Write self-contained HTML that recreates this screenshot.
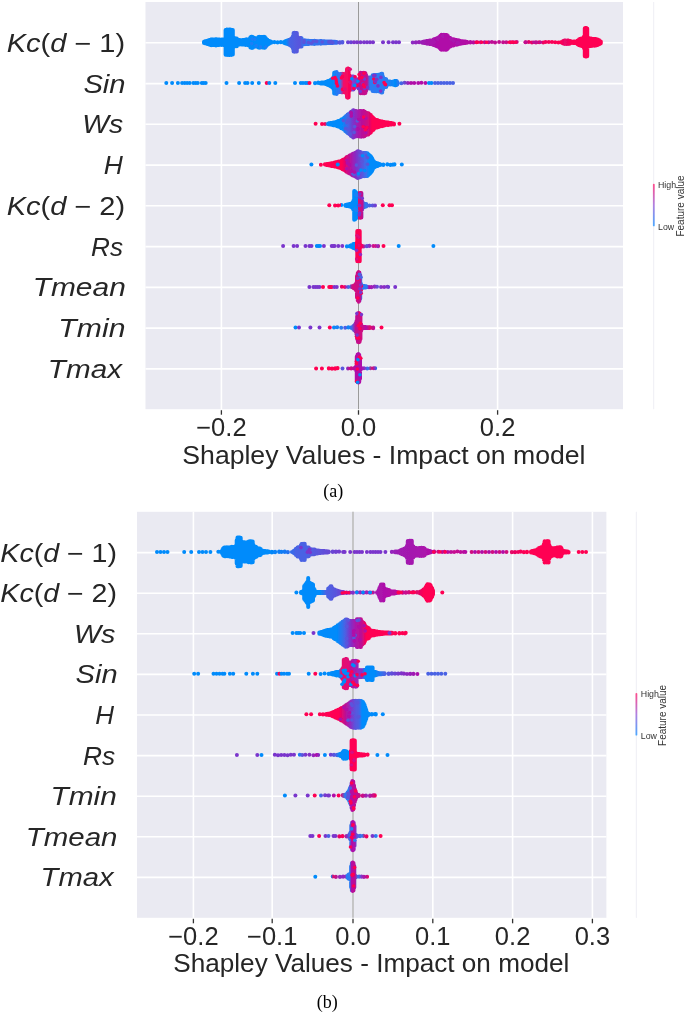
<!DOCTYPE html>
<html><head><meta charset="utf-8"><style>
html,body{margin:0;padding:0;background:#fff;width:685px;height:1013px;overflow:hidden}
svg{display:block;will-change:transform}
text{font-family:"Liberation Sans",sans-serif;fill:#262626}
.yl{font-size:25px;font-style:italic}
.up{font-style:normal}
.tk{font-size:25.5px}
.xl{font-size:25.5px}
.cap{font-family:"Liberation Serif",serif;font-size:18px;fill:#000}
.cb{fill:#333}
</style></head><body>
<svg width="685" height="1013" viewBox="0 0 685 1013"><defs><linearGradient id="g1" gradientUnits="userSpaceOnUse" x1="202.0" y1="0" x2="345.0" y2="0"><stop offset="0.0000" stop-color="#008BFB"/><stop offset="0.5874" stop-color="#008BFB"/><stop offset="0.6154" stop-color="#4A62E4"/><stop offset="0.6853" stop-color="#5A55DC"/><stop offset="0.7133" stop-color="#2F78F2"/><stop offset="0.8601" stop-color="#3570EE"/><stop offset="0.9371" stop-color="#3A6AEE"/><stop offset="1.0000" stop-color="#5A55DC"/></linearGradient><linearGradient id="g2" gradientUnits="userSpaceOnUse" x1="410.7" y1="0" x2="519.0" y2="0"><stop offset="0.0000" stop-color="#8A2EC4"/><stop offset="0.1320" stop-color="#A01AB0"/><stop offset="0.2705" stop-color="#B00CA8"/><stop offset="0.4552" stop-color="#B00CA8"/><stop offset="0.6399" stop-color="#B8109C"/><stop offset="0.8246" stop-color="#C00C90"/><stop offset="1.0000" stop-color="#D0087F"/></linearGradient><linearGradient id="g3" gradientUnits="userSpaceOnUse" x1="523.6" y1="0" x2="603.4" y2="0"><stop offset="0.0000" stop-color="#E0086A"/><stop offset="0.2055" stop-color="#F00060"/><stop offset="0.4561" stop-color="#FF0052"/><stop offset="0.5188" stop-color="#E8086A"/><stop offset="0.6065" stop-color="#FF0052"/><stop offset="1.0000" stop-color="#FF0052"/></linearGradient><linearGradient id="g4" gradientUnits="userSpaceOnUse" x1="313.0" y1="0" x2="428.0" y2="0"><stop offset="0.0000" stop-color="#008BFB"/><stop offset="0.1652" stop-color="#008BFB"/><stop offset="0.2348" stop-color="#3A6FF0"/><stop offset="0.2652" stop-color="#F0106A"/><stop offset="0.3304" stop-color="#FF0052"/><stop offset="0.3391" stop-color="#7A45D8"/><stop offset="0.3826" stop-color="#8A30C8"/><stop offset="0.3957" stop-color="#C00C90"/><stop offset="0.4696" stop-color="#C80C8C"/><stop offset="0.4957" stop-color="#2A7BF4"/><stop offset="0.6348" stop-color="#2C7CF2"/><stop offset="0.7130" stop-color="#008BFB"/><stop offset="0.7739" stop-color="#4A62E4"/><stop offset="0.8435" stop-color="#B00CA8"/><stop offset="1.0000" stop-color="#B00CA8"/></linearGradient><linearGradient id="g5" gradientUnits="userSpaceOnUse" x1="320.0" y1="0" x2="396.4" y2="0"><stop offset="0.0000" stop-color="#FF0052"/><stop offset="0.0654" stop-color="#FF0052"/><stop offset="0.0916" stop-color="#008BFB"/><stop offset="0.2880" stop-color="#008BFB"/><stop offset="0.3665" stop-color="#4A62E4"/><stop offset="0.4319" stop-color="#7A35CC"/><stop offset="0.4974" stop-color="#A818AE"/><stop offset="0.5759" stop-color="#C00C90"/><stop offset="0.6283" stop-color="#D0087F"/><stop offset="0.6806" stop-color="#FF0052"/><stop offset="1.0000" stop-color="#FF0052"/></linearGradient><linearGradient id="g6" gradientUnits="userSpaceOnUse" x1="318.9" y1="0" x2="397.0" y2="0"><stop offset="0.0000" stop-color="#FF0052"/><stop offset="0.2958" stop-color="#FF0052"/><stop offset="0.3598" stop-color="#D0087F"/><stop offset="0.4238" stop-color="#A818AE"/><stop offset="0.4878" stop-color="#7A35CC"/><stop offset="0.5519" stop-color="#5A55DC"/><stop offset="0.6031" stop-color="#3A70EE"/><stop offset="0.6415" stop-color="#008BFB"/><stop offset="1.0000" stop-color="#008BFB"/></linearGradient><linearGradient id="g7" gradientUnits="userSpaceOnUse" x1="333.0" y1="0" x2="377.3" y2="0"><stop offset="0.0000" stop-color="#FF0052"/><stop offset="0.1761" stop-color="#FF0052"/><stop offset="0.1919" stop-color="#008BFB"/><stop offset="0.5530" stop-color="#008BFB"/><stop offset="0.5711" stop-color="#E0086A"/><stop offset="0.6659" stop-color="#C00C90"/><stop offset="0.7223" stop-color="#2C7CF2"/><stop offset="0.8804" stop-color="#5A55DC"/><stop offset="0.9932" stop-color="#7A35CC"/></linearGradient><linearGradient id="g8" gradientUnits="userSpaceOnUse" x1="344.9" y1="0" x2="380.4" y2="0"><stop offset="0.0028" stop-color="#008BFB"/><stop offset="0.2845" stop-color="#008BFB"/><stop offset="0.2986" stop-color="#FF0052"/><stop offset="0.4676" stop-color="#FF0052"/><stop offset="0.5099" stop-color="#E0087A"/><stop offset="0.5944" stop-color="#5A55DC"/><stop offset="0.7070" stop-color="#9428C0"/><stop offset="0.8197" stop-color="#E0087A"/><stop offset="0.9324" stop-color="#9428C0"/><stop offset="0.9887" stop-color="#D0087F"/></linearGradient><linearGradient id="g9" gradientUnits="userSpaceOnUse" x1="339.8" y1="0" x2="390.2" y2="0"><stop offset="0.0040" stop-color="#E0086A"/><stop offset="0.0833" stop-color="#FF0052"/><stop offset="0.1230" stop-color="#9428C0"/><stop offset="0.1825" stop-color="#2C7CF2"/><stop offset="0.2421" stop-color="#D0087F"/><stop offset="0.3016" stop-color="#D0087F"/><stop offset="0.4206" stop-color="#C00C90"/><stop offset="0.4405" stop-color="#2C7CF2"/><stop offset="0.5397" stop-color="#2C7CF2"/><stop offset="0.5794" stop-color="#B00CA8"/><stop offset="0.6786" stop-color="#9428C0"/><stop offset="0.7579" stop-color="#5A55DC"/><stop offset="0.8373" stop-color="#9428C0"/><stop offset="0.9960" stop-color="#6A3FD4"/></linearGradient><linearGradient id="g10" gradientUnits="userSpaceOnUse" x1="332.0" y1="0" x2="375.8" y2="0"><stop offset="0.0000" stop-color="#008BFB"/><stop offset="0.2283" stop-color="#2C7CF2"/><stop offset="0.2968" stop-color="#5A55DC"/><stop offset="0.3653" stop-color="#008BFB"/><stop offset="0.4566" stop-color="#4A62E4"/><stop offset="0.5365" stop-color="#C00C90"/><stop offset="0.6849" stop-color="#D0087F"/><stop offset="0.7763" stop-color="#B00CA8"/><stop offset="0.8676" stop-color="#E0086A"/><stop offset="1.0000" stop-color="#B00CA8"/></linearGradient><linearGradient id="g11" gradientUnits="userSpaceOnUse" x1="326.8" y1="0" x2="340.3" y2="0"><stop offset="0.0000" stop-color="#FF0052"/><stop offset="0.9778" stop-color="#FF0052"/></linearGradient><linearGradient id="g12" gradientUnits="userSpaceOnUse" x1="346.0" y1="0" x2="377.6" y2="0"><stop offset="0.0000" stop-color="#7A35CC"/><stop offset="0.1266" stop-color="#D0087F"/><stop offset="0.3006" stop-color="#B00CA8"/><stop offset="0.4747" stop-color="#B00CA8"/><stop offset="0.5696" stop-color="#9428C0"/><stop offset="0.6962" stop-color="#2C7CF2"/><stop offset="0.8228" stop-color="#E0086A"/><stop offset="0.9177" stop-color="#7A35CC"/><stop offset="1.0000" stop-color="#008BFB"/></linearGradient><linearGradient id="g13" gradientUnits="userSpaceOnUse" x1="216.3" y1="0" x2="346.7" y2="0"><stop offset="0.0000" stop-color="#008BFB"/><stop offset="0.3965" stop-color="#008BFB"/><stop offset="0.5268" stop-color="#1478F4"/><stop offset="0.6112" stop-color="#4A62E4"/><stop offset="0.6879" stop-color="#4A62E4"/><stop offset="0.7799" stop-color="#5A55DC"/><stop offset="0.9946" stop-color="#7A35CC"/></linearGradient><linearGradient id="g14" gradientUnits="userSpaceOnUse" x1="389.8" y1="0" x2="468.1" y2="0"><stop offset="0.0026" stop-color="#9428C0"/><stop offset="0.1303" stop-color="#A01AB0"/><stop offset="0.3857" stop-color="#A818AE"/><stop offset="0.5390" stop-color="#B00CA8"/><stop offset="0.6028" stop-color="#D0087F"/><stop offset="0.7050" stop-color="#B00CA8"/><stop offset="0.8327" stop-color="#C8088F"/><stop offset="0.9987" stop-color="#B00CA8"/></linearGradient><linearGradient id="g15" gradientUnits="userSpaceOnUse" x1="509.8" y1="0" x2="570.8" y2="0"><stop offset="0.0000" stop-color="#E0086A"/><stop offset="0.2492" stop-color="#FF0052"/><stop offset="1.0000" stop-color="#FF0052"/></linearGradient><linearGradient id="g16" gradientUnits="userSpaceOnUse" x1="299.0" y1="0" x2="435.3" y2="0"><stop offset="0.0000" stop-color="#008BFB"/><stop offset="0.1541" stop-color="#008BFB"/><stop offset="0.1981" stop-color="#4A62E4"/><stop offset="0.2715" stop-color="#5A55DC"/><stop offset="0.3375" stop-color="#7A35CC"/><stop offset="0.4475" stop-color="#9428C0"/><stop offset="0.5649" stop-color="#A818AE"/><stop offset="0.6530" stop-color="#B00CA8"/><stop offset="0.7777" stop-color="#C8088F"/><stop offset="0.8731" stop-color="#E0086A"/><stop offset="0.9171" stop-color="#FF0052"/><stop offset="1.0000" stop-color="#FF0052"/></linearGradient><linearGradient id="g17" gradientUnits="userSpaceOnUse" x1="317.3" y1="0" x2="408.4" y2="0"><stop offset="0.0000" stop-color="#008BFB"/><stop offset="0.2162" stop-color="#008BFB"/><stop offset="0.3041" stop-color="#4A62E4"/><stop offset="0.3589" stop-color="#7A35CC"/><stop offset="0.4138" stop-color="#A818AE"/><stop offset="0.4907" stop-color="#C00C90"/><stop offset="0.5346" stop-color="#FF0052"/><stop offset="1.0000" stop-color="#FF0052"/></linearGradient><linearGradient id="g18" gradientUnits="userSpaceOnUse" x1="318.6" y1="0" x2="419.6" y2="0"><stop offset="0.0000" stop-color="#008BFB"/><stop offset="0.2020" stop-color="#008BFB"/><stop offset="0.2218" stop-color="#E8106C"/><stop offset="0.3010" stop-color="#E0107A"/><stop offset="0.3208" stop-color="#B810A0"/><stop offset="0.3901" stop-color="#9A28BC"/><stop offset="0.4297" stop-color="#7A35CC"/><stop offset="0.4594" stop-color="#008BFB"/><stop offset="0.5584" stop-color="#008BFB"/><stop offset="0.6574" stop-color="#4A62E4"/><stop offset="0.8059" stop-color="#7A35CC"/><stop offset="1.0000" stop-color="#B00CA8"/></linearGradient><linearGradient id="g19" gradientUnits="userSpaceOnUse" x1="317.8" y1="0" x2="378.4" y2="0"><stop offset="0.0000" stop-color="#FF0052"/><stop offset="0.3498" stop-color="#FF0052"/><stop offset="0.4488" stop-color="#C00C90"/><stop offset="0.5314" stop-color="#9428C0"/><stop offset="0.6139" stop-color="#5A55DC"/><stop offset="0.6799" stop-color="#4A62E4"/><stop offset="0.7294" stop-color="#008BFB"/><stop offset="0.9934" stop-color="#008BFB"/></linearGradient><linearGradient id="g20" gradientUnits="userSpaceOnUse" x1="272.8" y1="0" x2="296.3" y2="0"><stop offset="0.0000" stop-color="#7A35CC"/><stop offset="0.9872" stop-color="#7A35CC"/></linearGradient><linearGradient id="g21" gradientUnits="userSpaceOnUse" x1="297.8" y1="0" x2="320.3" y2="0"><stop offset="0.0000" stop-color="#008BFB"/><stop offset="0.1422" stop-color="#4A62E4"/><stop offset="0.3200" stop-color="#7A35CC"/><stop offset="0.6756" stop-color="#9028C0"/><stop offset="0.8089" stop-color="#B00CA8"/><stop offset="0.9867" stop-color="#7A35CC"/></linearGradient><linearGradient id="g22" gradientUnits="userSpaceOnUse" x1="328.8" y1="0" x2="370.0" y2="0"><stop offset="0.0000" stop-color="#7A35CC"/><stop offset="0.1748" stop-color="#4A62E4"/><stop offset="0.2476" stop-color="#008BFB"/><stop offset="0.4903" stop-color="#008BFB"/><stop offset="0.4976" stop-color="#FF0052"/><stop offset="1.0000" stop-color="#FF0052"/></linearGradient><linearGradient id="g23" gradientUnits="userSpaceOnUse" x1="319.0" y1="0" x2="331.1" y2="0"><stop offset="0.0000" stop-color="#2C7CF2"/><stop offset="0.4959" stop-color="#7A35CC"/><stop offset="0.9917" stop-color="#7A35CC"/></linearGradient><linearGradient id="g24" gradientUnits="userSpaceOnUse" x1="340.8" y1="0" x2="377.5" y2="0"><stop offset="0.0000" stop-color="#E0086A"/><stop offset="0.1144" stop-color="#2C7CF2"/><stop offset="0.2234" stop-color="#2C7CF2"/><stop offset="0.2507" stop-color="#B00CA8"/><stop offset="0.4414" stop-color="#C00C90"/><stop offset="0.5777" stop-color="#D0087F"/><stop offset="0.7139" stop-color="#9428C0"/><stop offset="0.8501" stop-color="#C00C90"/><stop offset="0.9864" stop-color="#FF0052"/></linearGradient><linearGradient id="g25" gradientUnits="userSpaceOnUse" x1="337.3" y1="0" x2="368.8" y2="0"><stop offset="0.0000" stop-color="#E0086A"/><stop offset="0.1810" stop-color="#FF0052"/><stop offset="0.3079" stop-color="#7A35CC"/><stop offset="0.4032" stop-color="#2C7CF2"/><stop offset="0.4349" stop-color="#B00CA8"/><stop offset="0.5619" stop-color="#A818AE"/><stop offset="0.6254" stop-color="#5A55DC"/><stop offset="0.7841" stop-color="#2C7CF2"/><stop offset="0.8794" stop-color="#E0086A"/><stop offset="1.0000" stop-color="#FF0052"/></linearGradient><linearGradient id="g26" gradientUnits="userSpaceOnUse" x1="330.7" y1="0" x2="369.7" y2="0"><stop offset="0.0077" stop-color="#008BFB"/><stop offset="0.0590" stop-color="#E0086A"/><stop offset="0.2385" stop-color="#9428C0"/><stop offset="0.3667" stop-color="#9428C0"/><stop offset="0.4051" stop-color="#2C7CF2"/><stop offset="0.4949" stop-color="#2C7CF2"/><stop offset="0.5205" stop-color="#B00CA8"/><stop offset="0.6231" stop-color="#C00C90"/><stop offset="0.7000" stop-color="#2C7CF2"/><stop offset="0.8026" stop-color="#9428C0"/><stop offset="0.9051" stop-color="#C00C90"/><stop offset="1.0000" stop-color="#FF0052"/></linearGradient><linearGradient id="cb27" x1="0" y1="1" x2="0" y2="0"><stop offset="0" stop-color="#4AA8FF"/><stop offset="0.5" stop-color="#B080E0"/><stop offset="1" stop-color="#FF4A8A"/></linearGradient><linearGradient id="cb28" x1="0" y1="1" x2="0" y2="0"><stop offset="0" stop-color="#4AA8FF"/><stop offset="0.5" stop-color="#B080E0"/><stop offset="1" stop-color="#FF4A8A"/></linearGradient><filter id="soft" x="-5%" y="-5%" width="110%" height="110%"><feGaussianBlur stdDeviation="0.45"/></filter></defs><rect width="685" height="1013" fill="#fff"/><rect x="145.5" y="2.0" width="477.5" height="407.2" fill="#EAEAF2"/><line x1="221.4" y1="2.0" x2="221.4" y2="409.2" stroke="#fff" stroke-width="1.6"/><line x1="358.5" y1="2.0" x2="358.5" y2="409.2" stroke="#fff" stroke-width="1.6"/><line x1="497.6" y1="2.0" x2="497.6" y2="409.2" stroke="#fff" stroke-width="1.6"/><line x1="145.5" y1="42.8" x2="623.0" y2="42.8" stroke="#fff" stroke-width="1.6"/><line x1="145.5" y1="83.6" x2="623.0" y2="83.6" stroke="#fff" stroke-width="1.6"/><line x1="145.5" y1="124.3" x2="623.0" y2="124.3" stroke="#fff" stroke-width="1.6"/><line x1="145.5" y1="165.1" x2="623.0" y2="165.1" stroke="#fff" stroke-width="1.6"/><line x1="145.5" y1="205.8" x2="623.0" y2="205.8" stroke="#fff" stroke-width="1.6"/><line x1="145.5" y1="246.6" x2="623.0" y2="246.6" stroke="#fff" stroke-width="1.6"/><line x1="145.5" y1="287.4" x2="623.0" y2="287.4" stroke="#fff" stroke-width="1.6"/><line x1="145.5" y1="328.1" x2="623.0" y2="328.1" stroke="#fff" stroke-width="1.6"/><line x1="145.5" y1="368.9" x2="623.0" y2="368.9" stroke="#fff" stroke-width="1.6"/><line x1="358.5" y1="2.0" x2="358.5" y2="409.2" stroke="#9a9a9a" stroke-width="1.1"/><line x1="221.4" y1="410.2" x2="221.4" y2="414.7" stroke="#333" stroke-width="1.3"/><line x1="358.5" y1="410.2" x2="358.5" y2="414.7" stroke="#333" stroke-width="1.3"/><line x1="497.6" y1="410.2" x2="497.6" y2="414.7" stroke="#333" stroke-width="1.3"/><rect x="137.0" y="511.8" width="469.4" height="406.0" fill="#EAEAF2"/><line x1="193.4" y1="511.8" x2="193.4" y2="917.8" stroke="#fff" stroke-width="1.6"/><line x1="272.2" y1="511.8" x2="272.2" y2="917.8" stroke="#fff" stroke-width="1.6"/><line x1="353.0" y1="511.8" x2="353.0" y2="917.8" stroke="#fff" stroke-width="1.6"/><line x1="432.8" y1="511.8" x2="432.8" y2="917.8" stroke="#fff" stroke-width="1.6"/><line x1="512.6" y1="511.8" x2="512.6" y2="917.8" stroke="#fff" stroke-width="1.6"/><line x1="592.4" y1="511.8" x2="592.4" y2="917.8" stroke="#fff" stroke-width="1.6"/><line x1="137.0" y1="552.6" x2="606.4" y2="552.6" stroke="#fff" stroke-width="1.6"/><line x1="137.0" y1="593.2" x2="606.4" y2="593.2" stroke="#fff" stroke-width="1.6"/><line x1="137.0" y1="633.8" x2="606.4" y2="633.8" stroke="#fff" stroke-width="1.6"/><line x1="137.0" y1="674.4" x2="606.4" y2="674.4" stroke="#fff" stroke-width="1.6"/><line x1="137.0" y1="715.0" x2="606.4" y2="715.0" stroke="#fff" stroke-width="1.6"/><line x1="137.0" y1="755.6" x2="606.4" y2="755.6" stroke="#fff" stroke-width="1.6"/><line x1="137.0" y1="796.2" x2="606.4" y2="796.2" stroke="#fff" stroke-width="1.6"/><line x1="137.0" y1="836.8" x2="606.4" y2="836.8" stroke="#fff" stroke-width="1.6"/><line x1="137.0" y1="877.4" x2="606.4" y2="877.4" stroke="#fff" stroke-width="1.6"/><line x1="353.0" y1="511.8" x2="353.0" y2="917.8" stroke="#9a9a9a" stroke-width="1.1"/><line x1="193.4" y1="918.8" x2="193.4" y2="923.3" stroke="#333" stroke-width="1.3"/><line x1="272.2" y1="918.8" x2="272.2" y2="923.3" stroke="#333" stroke-width="1.3"/><line x1="353.0" y1="918.8" x2="353.0" y2="923.3" stroke="#333" stroke-width="1.3"/><line x1="432.8" y1="918.8" x2="432.8" y2="923.3" stroke="#333" stroke-width="1.3"/><line x1="512.6" y1="918.8" x2="512.6" y2="923.3" stroke="#333" stroke-width="1.3"/><line x1="592.4" y1="918.8" x2="592.4" y2="923.3" stroke="#333" stroke-width="1.3"/><g filter="url(#soft)"><path d="M204.0 41.7V42.9M204.8 41.4V43.2M205.6 41.3V43.3M206.4 41.2V43.4M207.2 40.7V43.9M208.0 40.8V43.8M208.8 40.3V44.3M209.6 39.9V44.7M210.4 39.7V44.9M211.2 39.4V45.2M212.0 39.7V44.9M212.8 39.5V45.1M213.6 39.7V44.9M214.4 39.7V44.9M215.2 39.5V45.1M216.0 39.2V45.4M216.8 39.6V45.0M217.6 39.6V45.0M218.4 39.5V45.1M219.2 39.6V45.0M220.0 39.8V44.8M220.8 39.9V44.7M221.6 39.6V45.0M222.4 40.1V44.5M223.2 39.6V45.0M224.0 39.8V44.8M224.8 39.4V45.2M225.6 29.9V54.7M226.4 29.8V54.8M227.2 29.5V55.1M228.0 29.9V54.7M228.8 29.7V54.9M229.6 29.6V55.0M230.4 29.8V54.8M231.2 29.7V54.9M232.0 30.0V54.6M232.8 30.0V54.6M233.6 37.6V47.0M234.4 38.1V46.5M235.2 38.5V46.1M236.0 38.6V46.0M236.8 38.4V46.2M237.6 39.6V45.0M238.4 40.3V44.3M239.2 40.0V44.6M240.0 40.1V44.5M240.8 40.4V44.2M241.6 40.2V44.4M242.4 40.2V44.4M243.2 40.0V44.6M244.0 40.1V44.5M244.8 40.3V44.3M245.6 39.6V45.0M246.4 39.8V44.8M247.2 39.6V45.0M248.0 39.4V45.2M248.8 39.6V45.0M249.6 38.9V45.7M250.4 37.2V47.4M251.2 36.8V47.8M252.0 36.7V47.9M252.8 36.9V47.7M253.6 37.6V47.0M254.4 38.3V46.3M255.2 38.2V46.4M256.0 38.2V46.4M256.8 38.3V46.3M257.6 38.2V46.4M258.4 37.1V47.5M259.2 36.8V47.8M260.0 37.1V47.5M260.8 37.0V47.6M261.6 37.4V47.2M262.4 37.0V47.6M263.2 37.0V47.6M264.0 36.8V47.8M264.8 36.9V47.7M265.6 38.0V46.6M266.4 39.1V45.5M267.2 39.6V45.0M268.0 40.5V44.1M268.8 40.7V43.9M269.6 41.4V43.2M270.4 41.5V43.1M271.2 41.8V42.8M274.4 42.0V42.2M277.6 42.2V42.4M280.8 42.1V42.3M284.0 41.9V42.7M284.8 41.4V43.2M285.6 41.2V43.4M286.4 40.9V43.7M287.2 40.6V44.0M288.0 40.4V44.2M288.8 40.0V44.6M289.6 39.7V44.9M290.4 39.4V45.2M291.2 38.6V46.0M292.0 38.1V46.5M292.8 36.4V48.2M293.6 33.1V51.5M294.4 32.8V51.8M295.2 33.0V51.6M296.0 33.1V51.5M296.8 33.0V51.6M297.6 37.1V47.5M298.4 38.2V46.4M299.2 37.9V46.7M300.0 38.0V46.6M300.8 38.0V46.6M301.6 38.2V46.4M302.4 40.2V44.4M303.2 40.5V44.1M304.0 40.7V43.9M304.8 40.3V44.3M305.6 40.7V43.9M306.4 40.7V43.9M307.2 40.7V43.9M308.0 40.7V43.9M308.8 40.7V43.9M309.6 40.9V43.7M310.4 41.0V43.6M311.2 40.9V43.7M312.0 41.0V43.6M312.8 40.9V43.7M313.6 41.1V43.5M314.4 40.7V43.9M315.2 40.9V43.7M316.0 41.2V43.4M316.8 41.2V43.4M317.6 41.2V43.4M318.4 41.2V43.4M319.2 41.4V43.2M320.0 41.0V43.6M320.8 40.9V43.7M321.6 41.3V43.3M322.4 41.3V43.3M323.2 41.3V43.3M324.0 41.3V43.3M324.8 41.4V43.2M325.6 41.4V43.2M326.4 41.4V43.2M327.2 41.5V43.1M328.0 41.5V43.1M328.8 41.5V43.1M329.6 41.5V43.1M330.4 41.6V43.0M331.2 41.6V43.0M332.0 41.7V42.9M332.8 41.7V42.9M333.6 41.8V42.8M334.4 41.8V42.8M335.2 41.8V42.8M336.0 41.9V42.7M336.8 41.9V42.7M340.0 42.3V42.7M342.4 42.1V42.5" stroke="url(#g1)" stroke-width="4.0" stroke-linecap="round" fill="none"/><circle cx="308.4" cy="42.5" r="1.8" fill="#5A55DC"/><circle cx="304.0" cy="42.4" r="1.8" fill="#5A55DC"/><circle cx="339.2" cy="42.5" r="1.8" fill="#5A55DC"/><circle cx="328.8" cy="41.9" r="1.8" fill="#5A55DC"/><circle cx="316.6" cy="41.4" r="1.8" fill="#5A55DC"/><circle cx="331.6" cy="42.3" r="1.8" fill="#5A55DC"/><circle cx="331.8" cy="42.1" r="1.8" fill="#5A55DC"/><circle cx="311.3" cy="43.3" r="1.8" fill="#5A55DC"/><circle cx="339.4" cy="42.5" r="1.8" fill="#5A55DC"/><circle cx="332.8" cy="42.7" r="1.8" fill="#5A55DC"/><circle cx="330.4" cy="41.9" r="1.8" fill="#5A55DC"/><circle cx="322.2" cy="42.0" r="1.8" fill="#5A55DC"/><circle cx="304.1" cy="40.5" r="1.8" fill="#5A55DC"/><circle cx="313.3" cy="41.6" r="1.8" fill="#5A55DC"/><circle cx="260.5" cy="47.0" r="1.8" fill="#1E7FF6"/><circle cx="256.1" cy="45.8" r="1.8" fill="#1E7FF6"/><circle cx="265.8" cy="47.0" r="1.8" fill="#1E7FF6"/><circle cx="254.6" cy="39.3" r="1.8" fill="#1E7FF6"/><circle cx="252.1" cy="39.0" r="1.8" fill="#1E7FF6"/><circle cx="251.7" cy="43.6" r="1.8" fill="#1E7FF6"/><circle cx="348.0" cy="42.3" r="2.0" fill="#6A40D4"/><circle cx="351.0" cy="42.3" r="2.0" fill="#6A40D4"/><circle cx="354.0" cy="42.3" r="2.0" fill="#7A35CC"/><circle cx="357.0" cy="42.3" r="2.0" fill="#7A35CC"/><circle cx="360.5" cy="42.3" r="2.0" fill="#7A35CC"/><circle cx="364.0" cy="42.3" r="2.0" fill="#7A35CC"/><circle cx="367.0" cy="42.3" r="2.0" fill="#7A35CC"/><circle cx="370.0" cy="42.3" r="2.0" fill="#7A35CC"/><circle cx="373.0" cy="42.3" r="2.0" fill="#7A35CC"/><circle cx="383.0" cy="42.3" r="2.0" fill="#7A35CC"/><circle cx="388.6" cy="42.3" r="2.0" fill="#7A35CC"/><circle cx="393.0" cy="42.3" r="2.0" fill="#7A35CC"/><circle cx="396.0" cy="42.3" r="2.0" fill="#7A35CC"/><circle cx="399.0" cy="42.3" r="2.0" fill="#7A35CC"/><path d="M412.7 42.5V42.5M415.9 42.3V42.5M419.1 42.0V42.2M422.3 41.9V42.7M423.1 41.8V42.8M423.9 41.7V42.9M424.7 41.6V43.0M425.5 41.5V43.1M426.3 41.3V43.3M427.1 40.9V43.7M427.9 41.1V43.5M428.7 41.0V43.6M429.5 40.5V44.1M430.3 40.5V44.1M431.1 40.6V44.0M431.9 40.4V44.2M432.7 40.2V44.4M433.5 39.5V45.1M434.3 39.3V45.3M435.1 39.5V45.1M435.9 38.8V45.8M436.7 38.4V46.2M437.5 38.3V46.3M438.3 38.1V46.5M439.1 37.1V47.5M439.9 36.3V48.3M440.7 35.4V49.2M441.5 34.8V49.8M442.3 35.0V49.6M443.1 35.1V49.5M443.9 34.8V49.8M444.7 35.1V49.5M445.5 34.9V49.7M446.3 34.9V49.7M447.1 35.3V49.3M447.9 36.0V48.6M448.7 37.4V47.2M449.5 37.9V46.7M450.3 38.1V46.5M451.1 38.7V45.9M451.9 39.0V45.6M452.7 39.5V45.1M453.5 39.2V45.4M454.3 39.7V44.9M455.1 39.8V44.8M455.9 40.0V44.6M456.7 39.9V44.7M457.5 40.4V44.2M458.3 40.3V44.3M459.1 40.7V43.9M459.9 40.8V43.8M460.7 40.9V43.7M461.5 41.4V43.2M462.3 41.3V43.3M463.1 41.4V43.2M463.9 41.5V43.1M464.7 41.6V43.0M465.5 41.7V42.9M466.3 41.8V42.8M467.1 41.9V42.7M470.3 42.1V42.5M473.5 42.3V42.4M476.7 42.2V42.2M480.7 42.3V42.3M484.7 42.3V42.3M488.7 42.2V42.2M491.9 42.1V42.1M495.1 42.4V42.4M499.1 42.1V42.1M503.1 42.3V42.3M506.3 42.3V42.3M510.3 42.3V42.3M513.5 42.3V42.3M516.7 42.1V42.1" stroke="url(#g2)" stroke-width="4.0" stroke-linecap="round" fill="none"/><circle cx="438.0" cy="37.7" r="1.8" fill="#A818AE"/><circle cx="453.4" cy="41.0" r="1.8" fill="#A818AE"/><circle cx="433.9" cy="41.9" r="1.8" fill="#A818AE"/><circle cx="457.3" cy="43.6" r="1.8" fill="#A818AE"/><circle cx="437.8" cy="39.0" r="1.8" fill="#A818AE"/><circle cx="457.6" cy="42.6" r="1.8" fill="#A818AE"/><circle cx="451.0" cy="39.0" r="1.8" fill="#A818AE"/><circle cx="431.7" cy="43.1" r="1.8" fill="#A818AE"/><circle cx="442.8" cy="36.1" r="1.8" fill="#A818AE"/><circle cx="458.2" cy="42.8" r="1.8" fill="#A818AE"/><circle cx="509.3" cy="42.3" r="1.8" fill="#FF0052"/><circle cx="512.0" cy="42.3" r="1.8" fill="#FF0052"/><circle cx="512.3" cy="42.3" r="1.8" fill="#FF0052"/><circle cx="486.6" cy="42.3" r="1.8" fill="#FF0052"/><circle cx="515.4" cy="42.3" r="1.8" fill="#FF0052"/><circle cx="476.3" cy="42.3" r="1.8" fill="#FF0052"/><circle cx="481.7" cy="42.3" r="1.8" fill="#FF0052"/><circle cx="477.9" cy="42.3" r="1.8" fill="#FF0052"/><path d="M525.6 42.2V42.2M528.8 42.1V42.1M532.0 42.4V42.4M536.0 42.5V42.5M539.2 42.3V42.3M543.2 42.4V42.4M545.6 42.1V42.1M548.8 42.1V42.1M552.0 42.1V42.1M555.2 42.2V42.2M558.4 42.6V42.6M560.8 42.2V42.2M562.4 41.7V42.9M563.2 41.0V43.6M564.0 40.8V43.8M564.8 40.5V44.1M565.6 40.8V43.8M566.4 40.7V43.9M567.2 40.8V43.8M568.0 40.6V44.0M568.8 40.8V43.8M569.6 40.9V43.7M570.4 41.3V43.3M571.2 41.6V43.0M572.0 41.8V42.8M572.8 41.7V42.9M573.6 41.7V42.9M574.4 41.6V43.0M575.2 41.6V43.0M576.0 41.4V43.2M576.8 41.2V43.4M577.6 40.4V44.2M578.4 39.9V44.7M579.2 39.3V45.3M580.0 39.0V45.6M580.8 38.8V45.8M581.6 38.6V46.0M582.4 38.7V45.9M583.2 38.4V46.2M584.0 36.4V48.2M584.8 28.3V56.3M585.6 28.0V56.6M586.4 28.0V56.6M587.2 28.4V56.2M588.0 37.8V46.8M588.8 38.3V46.3M589.6 38.6V46.0M590.4 38.6V46.0M591.2 38.6V46.0M592.0 39.1V45.5M592.8 38.9V45.7M593.6 39.0V45.6M594.4 38.9V45.7M595.2 39.0V45.6M596.0 39.2V45.4M596.8 39.6V45.0M597.6 39.6V45.0M598.4 40.0V44.6M599.2 40.3V44.3M600.0 40.9V43.7M600.8 41.4V43.2" stroke="url(#g3)" stroke-width="4.0" stroke-linecap="round" fill="none"/><circle cx="525.9" cy="42.3" r="1.8" fill="#C00C90"/><circle cx="525.3" cy="42.3" r="1.8" fill="#C00C90"/><circle cx="535.3" cy="42.3" r="1.8" fill="#C00C90"/><circle cx="536.8" cy="42.3" r="1.8" fill="#C00C90"/><circle cx="533.8" cy="42.3" r="1.8" fill="#C00C90"/><circle cx="540.5" cy="42.3" r="1.8" fill="#C00C90"/><circle cx="166.3" cy="83.1" r="2.0" fill="#008BFB"/><circle cx="172.1" cy="83.1" r="2.0" fill="#008BFB"/><circle cx="177.9" cy="83.1" r="2.0" fill="#008BFB"/><circle cx="182.1" cy="83.1" r="2.0" fill="#008BFB"/><circle cx="184.7" cy="83.1" r="2.0" fill="#008BFB"/><circle cx="187.1" cy="83.1" r="2.0" fill="#008BFB"/><circle cx="189.7" cy="83.1" r="2.0" fill="#008BFB"/><circle cx="193.4" cy="83.1" r="2.0" fill="#008BFB"/><circle cx="195.7" cy="83.1" r="2.0" fill="#008BFB"/><circle cx="197.8" cy="83.1" r="2.0" fill="#008BFB"/><circle cx="201.8" cy="83.1" r="2.0" fill="#008BFB"/><circle cx="203.6" cy="83.1" r="2.0" fill="#008BFB"/><circle cx="205.7" cy="83.1" r="2.0" fill="#008BFB"/><circle cx="226.5" cy="83.1" r="2.0" fill="#008BFB"/><circle cx="239.1" cy="83.1" r="2.0" fill="#008BFB"/><circle cx="245.1" cy="83.1" r="2.0" fill="#008BFB"/><circle cx="247.5" cy="83.1" r="2.0" fill="#008BFB"/><circle cx="252.2" cy="83.1" r="2.0" fill="#008BFB"/><circle cx="258.8" cy="83.1" r="2.0" fill="#008BFB"/><circle cx="266.7" cy="83.1" r="2.0" fill="#FF0052"/><circle cx="269.3" cy="83.1" r="2.0" fill="#008BFB"/><circle cx="275.3" cy="83.1" r="2.0" fill="#008BFB"/><circle cx="295.0" cy="83.1" r="2.0" fill="#008BFB"/><circle cx="300.8" cy="83.1" r="2.0" fill="#008BFB"/><circle cx="303.0" cy="83.1" r="2.0" fill="#008BFB"/><circle cx="305.5" cy="83.1" r="2.0" fill="#008BFB"/><circle cx="307.4" cy="83.1" r="2.0" fill="#008BFB"/><circle cx="309.5" cy="83.1" r="2.0" fill="#FF0052"/><path d="M315.0 83.0V83.2M318.2 82.6V83.1M320.6 82.7V83.4M321.4 82.7V83.5M322.2 82.6V83.5M323.0 82.6V83.5M323.8 82.5V83.6M324.6 82.5V83.6M325.4 82.2V83.9M326.2 82.1V84.0M327.0 81.5V84.6M327.8 81.1V85.0M328.6 81.1V85.0M329.4 80.7V85.4M330.2 80.2V85.9M331.0 79.6V86.6M331.8 79.0V87.1M332.6 78.6V87.5M333.4 77.0V89.1M334.2 72.8V93.4M335.0 72.5V93.6M335.8 72.4V93.7M336.6 72.1V94.0M337.4 73.4V92.7M338.2 73.9V92.3M339.0 74.3V91.9M339.8 74.2V91.9M340.6 74.1V92.0M341.4 73.9V92.3M342.2 73.8V92.3M343.0 73.9V92.3M343.8 74.1V92.0M344.6 73.9V92.2M345.4 73.7V92.4M346.2 72.9V93.2M347.0 68.9V97.2M347.8 68.4V97.7M348.6 68.8V97.3M349.4 75.4V90.7M350.2 76.2V89.9M351.0 77.0V89.1M351.8 76.8V89.3M352.6 76.6V89.6M353.4 76.5V89.6M354.2 77.6V88.5M355.0 79.3V86.9M355.8 79.7V86.4M356.6 79.3V86.8M357.4 79.7V86.4M358.2 79.5V86.6M359.0 79.6V86.5M359.8 78.5V87.6M360.6 72.8V93.3M361.4 73.3V92.8M362.2 72.9V93.3M363.0 73.1V93.1M363.8 72.8V93.3M364.6 72.9V93.2M365.4 73.2V92.9M366.2 75.3V90.8M367.0 77.3V88.8M367.8 77.8V88.3M368.6 77.9V88.3M369.4 77.6V88.6M370.2 77.6V88.5M371.0 77.6V88.5M371.8 77.3V88.8M372.6 75.2V91.0M373.4 75.2V90.9M374.2 74.9V91.3M375.0 75.4V90.8M375.8 74.9V91.2M376.6 74.9V91.3M377.4 75.3V90.8M378.2 74.8V91.3M379.0 74.9V91.2M379.8 74.6V91.6M380.6 74.2V92.0M381.4 73.7V92.4M382.2 73.7V92.4M383.0 76.8V89.4M383.8 78.6V87.6M384.6 79.1V87.0M385.4 79.1V87.0M386.2 79.2V86.9M387.0 81.3V84.8M387.8 81.8V84.3M388.6 81.5V84.6M389.4 81.9V84.2M390.2 81.5V84.6M391.0 81.9V84.2M391.8 81.9V84.2M392.6 81.7V84.4M393.4 81.8V84.3M394.2 81.3V84.9M395.0 80.9V85.2M395.8 81.0V85.2M396.6 81.0V85.1M397.4 81.9V84.2M401.4 83.2V83.2M404.6 82.8V82.8M407.8 82.9V82.9M411.0 82.9V82.9M414.2 82.9V82.9M418.2 83.0V83.0M421.4 82.8V82.8M425.4 83.0V83.0" stroke="url(#g4)" stroke-width="4.0" stroke-linecap="round" fill="none"/><circle cx="336.6" cy="83.6" r="1.8" fill="#FF0052"/><circle cx="336.1" cy="79.6" r="1.8" fill="#FF0052"/><circle cx="332.7" cy="78.3" r="1.8" fill="#FF0052"/><circle cx="342.6" cy="76.3" r="1.8" fill="#FF0052"/><circle cx="337.5" cy="85.9" r="1.8" fill="#FF0052"/><circle cx="341.5" cy="77.9" r="1.8" fill="#FF0052"/><circle cx="335.0" cy="77.6" r="1.8" fill="#FF0052"/><circle cx="336.4" cy="81.9" r="1.8" fill="#FF0052"/><circle cx="342.5" cy="89.4" r="1.8" fill="#FF0052"/><circle cx="350.2" cy="69.3" r="1.8" fill="#E0107A"/><circle cx="345.2" cy="89.1" r="1.8" fill="#E0107A"/><circle cx="350.4" cy="82.3" r="1.8" fill="#E0107A"/><circle cx="355.1" cy="76.8" r="1.8" fill="#FF0052"/><circle cx="353.7" cy="88.4" r="1.8" fill="#FF0052"/><circle cx="356.8" cy="85.5" r="1.8" fill="#FF0052"/><circle cx="357.8" cy="81.3" r="1.8" fill="#008BFB"/><circle cx="351.8" cy="78.7" r="1.8" fill="#008BFB"/><circle cx="354.7" cy="85.4" r="1.8" fill="#008BFB"/><circle cx="367.4" cy="87.5" r="1.8" fill="#7A35CC"/><circle cx="364.5" cy="88.4" r="1.8" fill="#7A35CC"/><circle cx="362.6" cy="84.1" r="1.8" fill="#7A35CC"/><circle cx="358.4" cy="88.7" r="1.8" fill="#7A35CC"/><circle cx="360.3" cy="91.5" r="1.8" fill="#7A35CC"/><circle cx="364.5" cy="79.1" r="1.8" fill="#7A35CC"/><circle cx="359.3" cy="78.1" r="1.8" fill="#FF0052"/><circle cx="364.4" cy="87.0" r="1.8" fill="#FF0052"/><circle cx="359.1" cy="74.5" r="1.8" fill="#FF0052"/><circle cx="363.2" cy="84.7" r="1.8" fill="#FF0052"/><circle cx="361.9" cy="77.5" r="1.8" fill="#FF0052"/><circle cx="364.0" cy="73.3" r="1.8" fill="#FF0052"/><circle cx="374.8" cy="82.4" r="1.8" fill="#FF0052"/><circle cx="385.3" cy="84.2" r="1.8" fill="#FF0052"/><circle cx="384.1" cy="82.6" r="1.8" fill="#FF0052"/><circle cx="373.8" cy="79.0" r="1.8" fill="#FF0052"/><circle cx="385.4" cy="84.7" r="1.8" fill="#FF0052"/><circle cx="374.9" cy="75.4" r="1.8" fill="#7A35CC"/><circle cx="378.0" cy="85.9" r="1.8" fill="#7A35CC"/><circle cx="376.7" cy="79.2" r="1.8" fill="#7A35CC"/><circle cx="380.7" cy="91.1" r="1.8" fill="#7A35CC"/><circle cx="373.6" cy="75.6" r="1.8" fill="#7A35CC"/><circle cx="375.4" cy="81.8" r="1.8" fill="#7A35CC"/><circle cx="380.9" cy="77.4" r="1.8" fill="#7A35CC"/><circle cx="429.0" cy="83.1" r="2.0" fill="#008BFB"/><circle cx="431.5" cy="83.1" r="2.0" fill="#008BFB"/><circle cx="435.0" cy="83.1" r="2.0" fill="#4A62E4"/><circle cx="438.0" cy="83.1" r="2.0" fill="#4A62E4"/><circle cx="441.0" cy="83.1" r="2.0" fill="#4A62E4"/><circle cx="444.0" cy="83.1" r="2.0" fill="#4A62E4"/><circle cx="447.0" cy="83.1" r="2.0" fill="#4A62E4"/><circle cx="450.0" cy="83.1" r="2.0" fill="#4A62E4"/><circle cx="453.0" cy="83.1" r="2.0" fill="#4A62E4"/><circle cx="315.6" cy="123.8" r="2.0" fill="#FF0052"/><circle cx="399.4" cy="123.8" r="2.0" fill="#FF0052"/><path d="M322.0 124.0V124.0M325.2 124.0V124.0M328.4 123.5V124.2M329.2 123.3V124.3M330.0 123.2V124.4M330.8 123.1V124.5M331.6 123.0V124.7M332.4 122.9V124.7M333.2 122.4V125.3M334.0 122.4V125.2M334.8 122.5V125.2M335.6 122.2V125.4M336.4 121.9V125.8M337.2 121.5V126.2M338.0 121.0V126.6M338.8 121.3V126.4M339.6 120.8V126.9M340.4 120.4V127.3M341.2 119.4V128.3M342.0 119.3V128.3M342.8 118.9V128.8M343.6 118.3V129.3M344.4 117.6V130.0M345.2 116.7V131.0M346.0 116.0V131.6M346.8 115.4V132.2M347.6 114.6V133.0M348.4 114.0V133.6M349.2 113.7V133.9M350.0 113.1V134.6M350.8 111.9V135.7M351.6 111.4V136.3M352.4 111.1V136.6M353.2 110.2V137.5M354.0 110.6V137.0M354.8 110.9V136.8M355.6 111.1V136.6M356.4 111.3V136.3M357.2 111.5V136.1M358.0 111.4V136.2M358.8 111.4V136.2M359.6 111.0V136.6M360.4 111.5V136.1M361.2 111.0V136.7M362.0 111.4V136.2M362.8 111.3V136.3M363.6 111.0V136.6M364.4 111.4V136.2M365.2 112.1V135.5M366.0 112.8V134.8M366.8 112.9V134.7M367.6 113.3V134.3M368.4 113.3V134.4M369.2 114.0V133.6M370.0 114.6V133.0M370.8 115.1V132.5M371.6 116.5V131.1M372.4 117.1V130.5M373.2 117.7V129.9M374.0 118.6V129.1M374.8 119.6V128.1M375.6 119.9V127.7M376.4 120.2V127.4M377.2 120.0V127.6M378.0 120.7V126.9M378.8 120.8V126.9M379.6 121.0V126.6M380.4 121.5V126.1M381.2 121.7V125.9M382.0 121.4V126.2M382.8 121.8V125.9M383.6 122.1V125.5M384.4 122.0V125.6M385.2 122.4V125.3M386.0 122.5V125.1M386.8 122.8V124.8M387.6 122.5V125.1M388.4 122.5V125.1M389.2 122.9V124.7M390.0 123.0V124.6M390.8 123.1V124.5M391.6 123.3V124.4M392.4 123.4V124.3M393.2 123.5V124.2M394.0 123.8V124.4" stroke="url(#g5)" stroke-width="4.0" stroke-linecap="round" fill="none"/><circle cx="343.4" cy="120.6" r="1.8" fill="#5A55DC"/><circle cx="350.1" cy="134.5" r="1.8" fill="#5A55DC"/><circle cx="357.3" cy="121.0" r="1.8" fill="#5A55DC"/><circle cx="346.8" cy="122.6" r="1.8" fill="#5A55DC"/><circle cx="350.4" cy="134.0" r="1.8" fill="#5A55DC"/><circle cx="345.7" cy="128.6" r="1.8" fill="#5A55DC"/><circle cx="354.1" cy="132.4" r="1.8" fill="#5A55DC"/><circle cx="354.6" cy="126.6" r="1.8" fill="#5A55DC"/><circle cx="347.9" cy="120.3" r="1.8" fill="#5A55DC"/><circle cx="348.4" cy="129.6" r="1.8" fill="#5A55DC"/><circle cx="351.3" cy="116.1" r="1.8" fill="#B00CA8"/><circle cx="362.0" cy="117.5" r="1.8" fill="#B00CA8"/><circle cx="351.0" cy="112.2" r="1.8" fill="#B00CA8"/><circle cx="358.8" cy="119.5" r="1.8" fill="#B00CA8"/><circle cx="365.7" cy="132.8" r="1.8" fill="#B00CA8"/><circle cx="365.8" cy="118.3" r="1.8" fill="#B00CA8"/><circle cx="351.3" cy="113.5" r="1.8" fill="#B00CA8"/><circle cx="358.0" cy="129.1" r="1.8" fill="#B00CA8"/><circle cx="363.6" cy="117.1" r="1.8" fill="#FF0052"/><circle cx="363.3" cy="126.8" r="1.8" fill="#FF0052"/><circle cx="365.4" cy="129.7" r="1.8" fill="#FF0052"/><circle cx="366.8" cy="127.5" r="1.8" fill="#FF0052"/><circle cx="311.4" cy="164.6" r="2.0" fill="#008BFB"/><circle cx="401.8" cy="164.6" r="2.0" fill="#008BFB"/><path d="M320.9 164.8V164.8M324.9 164.3V164.5M326.5 164.2V164.9M327.3 164.1V165.1M328.1 163.9V165.2M328.9 163.8V165.3M329.7 163.7V165.5M330.5 163.8V165.4M331.3 163.2V166.0M332.1 163.2V165.9M332.9 163.2V165.9M333.7 163.0V166.1M334.5 162.5V166.6M335.3 162.7V166.5M336.1 162.7V166.5M336.9 162.1V167.0M337.7 162.0V167.2M338.5 161.6V167.6M339.3 161.9V167.3M340.1 161.5V167.7M340.9 161.0V168.2M341.7 160.5V168.6M342.5 159.9V169.2M343.3 160.0V169.2M344.1 159.3V169.9M344.9 158.9V170.3M345.7 158.3V170.9M346.5 157.3V171.8M347.3 157.1V172.1M348.1 156.4V172.7M348.9 156.3V172.9M349.7 155.5V173.6M350.5 155.3V173.8M351.3 155.0V174.2M352.1 154.3V174.9M352.9 153.8V175.4M353.7 153.9V175.3M354.5 153.2V176.0M355.3 152.8V176.4M356.1 152.5V176.6M356.9 151.8V177.4M357.7 151.3V177.9M358.5 151.5V177.7M359.3 151.8V177.4M360.1 152.0V177.2M360.9 152.3V176.9M361.7 152.9V176.2M362.5 153.3V175.9M363.3 153.1V176.1M364.1 152.9V176.3M364.9 153.2V176.0M365.7 153.1V176.1M366.5 153.2V176.0M367.3 153.2V176.0M368.1 153.9V175.3M368.9 154.7V174.4M369.7 155.5V173.7M370.5 156.1V173.1M371.3 157.1V172.1M372.1 158.2V170.9M372.9 160.0V169.2M373.7 161.3V167.8M374.5 161.9V167.3M375.3 162.4V166.7M376.1 162.9V166.3M376.9 163.3V165.9M377.7 163.3V165.9M378.5 163.8V165.3M379.3 164.0V165.1M380.1 164.2V164.9M383.3 164.6V165.0M387.3 164.2V164.4M390.5 164.7V164.9M392.9 164.6V164.7M394.5 164.3V164.4" stroke="url(#g6)" stroke-width="4.0" stroke-linecap="round" fill="none"/><circle cx="337.7" cy="164.6" r="2.0" fill="#008BFB"/><circle cx="362.0" cy="161.5" r="1.8" fill="#5A55DC"/><circle cx="360.1" cy="155.5" r="1.8" fill="#5A55DC"/><circle cx="356.5" cy="165.1" r="1.8" fill="#5A55DC"/><circle cx="366.8" cy="155.5" r="1.8" fill="#5A55DC"/><circle cx="359.8" cy="172.4" r="1.8" fill="#5A55DC"/><circle cx="367.5" cy="157.6" r="1.8" fill="#5A55DC"/><circle cx="354.0" cy="174.6" r="1.8" fill="#5A55DC"/><circle cx="367.6" cy="164.2" r="1.8" fill="#5A55DC"/><circle cx="352.9" cy="173.7" r="1.8" fill="#5A55DC"/><circle cx="358.2" cy="175.5" r="1.8" fill="#5A55DC"/><circle cx="351.8" cy="171.2" r="1.8" fill="#B00CA8"/><circle cx="346.8" cy="168.8" r="1.8" fill="#B00CA8"/><circle cx="347.4" cy="163.1" r="1.8" fill="#B00CA8"/><circle cx="354.3" cy="172.1" r="1.8" fill="#B00CA8"/><circle cx="347.0" cy="160.3" r="1.8" fill="#B00CA8"/><circle cx="349.4" cy="164.9" r="1.8" fill="#B00CA8"/><circle cx="362.6" cy="155.8" r="1.8" fill="#008BFB"/><circle cx="361.0" cy="170.1" r="1.8" fill="#008BFB"/><circle cx="368.8" cy="154.8" r="1.8" fill="#008BFB"/><circle cx="364.7" cy="170.6" r="1.8" fill="#008BFB"/><circle cx="358.5" cy="173.7" r="1.8" fill="#008BFB"/><circle cx="329.3" cy="205.3" r="2.0" fill="#FF0052"/><circle cx="382.8" cy="205.3" r="2.0" fill="#FF0052"/><circle cx="389.5" cy="205.3" r="2.0" fill="#FF0052"/><circle cx="392.0" cy="205.3" r="2.0" fill="#FF0052"/><path d="M335.0 205.4V205.4M338.2 205.4V205.4M341.4 205.1V205.1M345.4 204.9V205.7M346.2 204.8V205.9M347.0 204.7V206.0M347.8 204.6V206.1M348.6 204.4V206.2M349.4 204.1V206.5M350.2 204.0V206.6M351.0 203.8V206.8M351.8 203.2V207.5M352.6 202.4V208.2M353.4 200.7V210.0M354.2 191.0V219.7M355.0 191.2V219.5M355.8 192.3V218.3M356.6 193.1V217.6M357.4 193.6V217.1M358.2 193.2V217.4M359.0 193.4V217.3M359.8 193.0V217.7M360.6 193.0V217.7M361.4 193.1V217.5M362.2 201.2V209.5M363.0 203.3V207.3M363.8 204.0V206.7M364.6 203.8V206.9M365.4 204.3V206.4M366.2 204.1V206.6M369.4 205.6V205.6M372.6 205.5V205.5M375.0 205.5V205.5" stroke="url(#g7)" stroke-width="4.0" stroke-linecap="round" fill="none"/><circle cx="359.1" cy="215.0" r="1.8" fill="#7A35CC"/><circle cx="359.6" cy="213.0" r="1.8" fill="#7A35CC"/><circle cx="359.1" cy="205.4" r="1.8" fill="#7A35CC"/><circle cx="362.2" cy="198.2" r="1.8" fill="#7A35CC"/><circle cx="359.6" cy="205.5" r="1.8" fill="#7A35CC"/><circle cx="359.8" cy="194.0" r="1.8" fill="#7A35CC"/><circle cx="359.2" cy="197.1" r="1.8" fill="#7A35CC"/><circle cx="356.7" cy="210.5" r="1.8" fill="#1C80F6"/><circle cx="356.6" cy="195.8" r="1.8" fill="#1C80F6"/><circle cx="356.1" cy="194.3" r="1.8" fill="#1C80F6"/><circle cx="355.1" cy="209.3" r="1.8" fill="#1C80F6"/><circle cx="283.1" cy="246.1" r="2.0" fill="#7A35CC"/><circle cx="293.6" cy="246.1" r="2.0" fill="#7A35CC"/><circle cx="297.1" cy="246.1" r="2.0" fill="#7A35CC"/><circle cx="305.5" cy="246.1" r="2.0" fill="#7A35CC"/><circle cx="309.4" cy="246.1" r="2.0" fill="#7A35CC"/><circle cx="311.5" cy="246.1" r="2.0" fill="#7A35CC"/><circle cx="316.8" cy="246.1" r="2.0" fill="#008BFB"/><circle cx="318.5" cy="246.1" r="2.0" fill="#008BFB"/><circle cx="320.0" cy="246.1" r="2.0" fill="#008BFB"/><circle cx="323.9" cy="246.1" r="2.0" fill="#7A35CC"/><circle cx="331.7" cy="246.1" r="2.0" fill="#7A35CC"/><circle cx="333.2" cy="246.1" r="2.0" fill="#7A35CC"/><circle cx="334.6" cy="246.1" r="2.0" fill="#7A35CC"/><circle cx="338.3" cy="246.1" r="2.0" fill="#7A35CC"/><circle cx="342.3" cy="246.1" r="2.0" fill="#7A35CC"/><circle cx="383.5" cy="246.1" r="2.0" fill="#FF0052"/><circle cx="398.7" cy="246.1" r="2.0" fill="#008BFB"/><circle cx="433.4" cy="246.1" r="2.0" fill="#008BFB"/><path d="M346.9 246.3V246.4M350.1 245.7V246.5M350.9 245.5V246.7M351.7 245.2V247.0M352.5 245.0V247.2M353.3 244.1V248.1M354.1 244.0V248.2M354.9 244.1V248.1M355.7 243.6V248.6M356.5 243.1V249.1M357.3 230.9V261.3M358.1 231.2V261.0M358.9 231.3V260.9M359.7 231.0V261.2M360.5 244.9V247.3M361.3 245.5V246.7M363.7 246.2V246.4M366.9 246.1V246.3M369.3 245.8V246.0M373.3 245.9V246.0M375.7 246.0V246.0M378.1 246.1V246.2" stroke="url(#g8)" stroke-width="4.0" stroke-linecap="round" fill="none"/><circle cx="358.9" cy="237.3" r="1.8" fill="#E0087A"/><circle cx="359.1" cy="245.4" r="1.8" fill="#E0087A"/><circle cx="356.7" cy="259.1" r="1.8" fill="#E0087A"/><circle cx="357.2" cy="235.6" r="1.8" fill="#E0087A"/><circle cx="356.5" cy="250.2" r="1.8" fill="#9428C0"/><circle cx="360.4" cy="254.5" r="1.8" fill="#9428C0"/><circle cx="309.4" cy="286.9" r="2.0" fill="#7A35CC"/><circle cx="313.4" cy="286.9" r="2.0" fill="#7A35CC"/><circle cx="315.5" cy="286.9" r="2.0" fill="#7A35CC"/><circle cx="317.5" cy="286.9" r="2.0" fill="#7A35CC"/><circle cx="319.5" cy="286.9" r="2.0" fill="#7A35CC"/><circle cx="323.0" cy="286.9" r="2.0" fill="#FF0052"/><circle cx="329.2" cy="286.9" r="2.0" fill="#FF0052"/><circle cx="330.5" cy="286.9" r="2.0" fill="#FF0052"/><circle cx="331.8" cy="286.9" r="2.0" fill="#FF0052"/><circle cx="334.4" cy="286.9" r="2.0" fill="#7A35CC"/><circle cx="336.8" cy="286.9" r="2.0" fill="#7A35CC"/><circle cx="395.2" cy="286.9" r="2.0" fill="#7A35CC"/><path d="M341.8 286.7V286.7M345.0 286.9V286.9M348.2 287.1V287.1M351.4 286.3V286.9M352.2 286.4V287.3M353.0 286.1V287.6M353.8 285.5V288.2M354.6 285.5V288.2M355.4 284.4V289.3M356.2 283.3V290.4M357.0 276.1V297.6M357.8 273.1V300.6M358.6 272.0V301.7M359.4 272.6V301.1M360.2 275.0V298.7M361.0 283.7V290.0M361.8 285.8V287.9M362.6 285.9V287.8M363.4 286.0V287.7M364.2 286.1V287.6M365.0 286.2V287.5M365.8 286.3V287.4M366.6 286.5V287.2M369.0 287.0V287.2M371.4 287.0V287.2M374.6 286.6V286.8M377.0 286.7V286.8M381.0 286.9V286.9M384.2 286.9V287.0M387.4 286.7V286.7M388.2 287.0V287.0" stroke="url(#g9)" stroke-width="4.0" stroke-linecap="round" fill="none"/><circle cx="361.2" cy="293.3" r="1.8" fill="#FF0052"/><circle cx="357.8" cy="298.0" r="1.8" fill="#FF0052"/><circle cx="357.8" cy="279.2" r="1.8" fill="#FF0052"/><circle cx="361.0" cy="290.4" r="1.8" fill="#FF0052"/><circle cx="359.8" cy="291.7" r="1.8" fill="#FF0052"/><circle cx="361.4" cy="286.1" r="1.8" fill="#FF0052"/><circle cx="360.6" cy="292.4" r="1.8" fill="#7A35CC"/><circle cx="360.7" cy="285.1" r="1.8" fill="#7A35CC"/><circle cx="360.0" cy="288.9" r="1.8" fill="#7A35CC"/><circle cx="357.7" cy="278.4" r="1.8" fill="#7A35CC"/><circle cx="359.4" cy="274.4" r="1.8" fill="#4A62E4"/><circle cx="361.0" cy="277.3" r="1.8" fill="#4A62E4"/><circle cx="295.5" cy="327.6" r="2.0" fill="#008BFB"/><circle cx="299.0" cy="327.6" r="2.0" fill="#7A35CC"/><circle cx="310.4" cy="327.6" r="2.0" fill="#7A35CC"/><circle cx="319.5" cy="327.6" r="2.0" fill="#7A35CC"/><circle cx="329.8" cy="327.6" r="2.0" fill="#FF0052"/><circle cx="381.5" cy="327.6" r="2.0" fill="#FF0052"/><path d="M334.0 327.4V327.4M337.2 327.3V327.3M341.2 327.7V327.7M345.2 327.8V327.8M348.4 327.2V327.5M351.6 327.3V328.0M352.4 327.0V328.3M353.2 326.2V329.0M354.0 325.4V329.9M354.8 324.7V330.5M355.6 323.5V331.7M356.4 321.3V333.9M357.2 316.1V339.1M358.0 313.3V341.9M358.8 313.0V342.3M359.6 313.6V341.7M360.4 315.9V339.3M361.2 324.6V330.7M362.0 326.6V328.7M362.8 327.0V328.3M363.6 327.1V328.1M364.4 327.1V328.1M365.2 327.1V328.1M366.0 327.2V328.1M366.8 327.2V328.1M367.6 327.2V328.0M368.4 327.2V328.0M369.2 327.2V328.0M370.0 327.3V328.0M373.2 327.6V328.2" stroke="url(#g10)" stroke-width="4.0" stroke-linecap="round" fill="none"/><circle cx="358.8" cy="338.1" r="1.8" fill="#FF0052"/><circle cx="359.4" cy="313.8" r="1.8" fill="#FF0052"/><circle cx="358.3" cy="325.7" r="1.8" fill="#FF0052"/><circle cx="360.3" cy="323.2" r="1.8" fill="#FF0052"/><circle cx="359.9" cy="328.7" r="1.8" fill="#FF0052"/><circle cx="357.2" cy="338.0" r="1.8" fill="#FF0052"/><circle cx="356.5" cy="336.3" r="1.8" fill="#FF0052"/><circle cx="356.9" cy="313.6" r="1.8" fill="#7A35CC"/><circle cx="357.1" cy="335.1" r="1.8" fill="#7A35CC"/><circle cx="361.4" cy="314.6" r="1.8" fill="#7A35CC"/><circle cx="316.1" cy="368.4" r="2.0" fill="#FF0052"/><circle cx="321.9" cy="368.4" r="2.0" fill="#FF0052"/><circle cx="342.5" cy="368.4" r="2.0" fill="#5A55DC"/><path d="M328.8 368.3V368.5M332.0 368.4V368.8M335.2 368.3V368.7M337.6 367.9V368.3" stroke="url(#g11)" stroke-width="4.0" stroke-linecap="round" fill="none"/><path d="M348.0 368.5V368.5M351.2 368.3V368.4M354.4 368.0V368.4M355.2 367.8V368.9M356.0 366.4V370.3M356.8 356.4V380.4M357.6 354.5V382.2M358.4 354.1V382.6M359.2 354.7V382.1M360.0 357.9V378.8M360.8 367.4V369.4M364.0 368.3V368.3M367.2 368.5V368.5M370.4 368.2V368.2M373.6 368.3V368.3M375.2 368.2V368.2" stroke="url(#g12)" stroke-width="4.0" stroke-linecap="round" fill="none"/><circle cx="356.4" cy="361.6" r="1.8" fill="#FF0052"/><circle cx="357.3" cy="369.0" r="1.8" fill="#FF0052"/><circle cx="356.4" cy="363.7" r="1.8" fill="#FF0052"/><circle cx="356.5" cy="381.4" r="1.8" fill="#FF0052"/><circle cx="359.5" cy="357.1" r="1.8" fill="#FF0052"/><circle cx="360.8" cy="358.3" r="1.8" fill="#FF0052"/><circle cx="357.6" cy="382.2" r="1.8" fill="#008BFB"/><circle cx="359.9" cy="374.8" r="1.8" fill="#008BFB"/><circle cx="357.9" cy="359.7" r="1.8" fill="#008BFB"/><circle cx="157.0" cy="551.9" r="2.0" fill="#008BFB"/><circle cx="160.5" cy="551.9" r="2.0" fill="#008BFB"/><circle cx="164.0" cy="551.9" r="2.0" fill="#008BFB"/><circle cx="167.5" cy="551.9" r="2.0" fill="#008BFB"/><circle cx="184.2" cy="551.9" r="2.0" fill="#008BFB"/><circle cx="191.2" cy="551.9" r="2.0" fill="#008BFB"/><circle cx="199.0" cy="551.9" r="2.0" fill="#008BFB"/><circle cx="202.5" cy="551.9" r="2.0" fill="#008BFB"/><circle cx="206.0" cy="551.9" r="2.0" fill="#008BFB"/><circle cx="210.4" cy="551.9" r="2.0" fill="#008BFB"/><path d="M218.3 551.7V551.7M220.7 551.8V551.9M221.5 551.5V552.3M222.3 550.1V553.7M223.1 548.5V555.3M223.9 547.7V556.1M224.7 547.5V556.3M225.5 547.6V556.2M226.3 547.8V556.0M227.1 547.5V556.3M227.9 547.7V556.1M228.7 547.5V556.3M229.5 547.4V556.4M230.3 547.6V556.2M231.1 547.1V556.7M231.9 546.8V557.0M232.7 546.9V556.9M233.5 547.1V556.7M234.3 546.8V557.0M235.1 546.4V557.4M235.9 545.7V558.1M236.7 540.2V563.6M237.5 537.5V566.3M238.3 537.6V566.2M239.1 537.6V566.2M239.9 537.7V566.1M240.7 537.8V566.0M241.5 541.7V562.1M242.3 542.6V561.2M243.1 542.5V561.3M243.9 542.3V561.5M244.7 542.4V561.4M245.5 542.4V561.4M246.3 542.6V561.2M247.1 542.4V561.4M247.9 541.9V561.9M248.7 541.5V562.3M249.5 541.7V562.1M250.3 541.5V562.3M251.1 541.3V562.5M251.9 541.8V562.0M252.7 541.5V562.3M253.5 544.9V558.9M254.3 546.9V556.9M255.1 547.1V556.7M255.9 546.8V557.0M256.7 547.4V556.4M257.5 548.2V555.6M258.3 549.0V554.8M259.1 548.7V555.1M259.9 548.6V555.2M260.7 549.1V554.7M261.5 550.3V553.5M262.3 550.6V553.2M263.1 550.9V552.9M263.9 551.0V552.8M264.7 551.1V552.7M265.5 551.2V552.6M266.3 551.2V552.6M267.1 551.3V552.5M267.9 551.4V552.4M268.7 551.5V552.3M271.9 551.8V552.4M275.1 551.8V552.3M279.1 551.4V551.9M281.5 551.7V552.0M284.7 551.6V551.9M287.9 551.9V552.2M291.9 551.9V552.1M293.5 551.1V552.7M294.3 550.5V553.3M295.1 550.0V553.8M295.9 548.8V555.0M296.7 548.5V555.3M297.5 547.4V556.4M298.3 547.3V556.5M299.1 547.3V556.5M299.9 547.1V556.7M300.7 545.6V558.2M301.5 543.9V559.9M302.3 544.1V559.7M303.1 543.7V560.1M303.9 544.0V559.8M304.7 543.7V560.1M305.5 546.9V556.9M306.3 547.4V556.4M307.1 547.5V556.3M307.9 547.4V556.4M308.7 547.6V556.2M309.5 548.7V555.1M310.3 549.1V554.7M311.1 549.6V554.2M311.9 549.6V554.2M312.7 549.6V554.2M313.5 549.5V554.3M314.3 549.5V554.3M315.1 549.8V554.0M315.9 550.4V553.4M316.7 550.7V553.1M317.5 550.4V553.4M318.3 550.5V553.3M319.1 551.1V552.7M319.9 550.7V553.1M320.7 550.9V552.9M321.5 551.0V552.8M322.3 551.0V552.8M323.1 551.1V552.7M323.9 551.1V552.7M324.7 551.2V552.6M325.5 551.3V552.5M326.3 551.3V552.5M327.1 551.4V552.4M327.9 551.4V552.4M328.7 551.5V552.3M332.7 551.4V551.9M335.9 551.5V551.9M339.1 551.6V551.8M343.1 552.0V552.1M344.7 552.0V552.1" stroke="url(#g13)" stroke-width="4.0" stroke-linecap="round" fill="none"/><circle cx="309.6" cy="549.2" r="1.8" fill="#7A35CC"/><circle cx="307.4" cy="552.2" r="1.8" fill="#7A35CC"/><circle cx="308.1" cy="551.3" r="1.8" fill="#7A35CC"/><circle cx="310.2" cy="552.4" r="1.8" fill="#7A35CC"/><circle cx="301.0" cy="547.6" r="1.8" fill="#7A35CC"/><circle cx="350.2" cy="551.9" r="2.0" fill="#7A35CC"/><circle cx="354.6" cy="551.9" r="2.0" fill="#7A35CC"/><circle cx="357.0" cy="551.9" r="2.0" fill="#7A35CC"/><circle cx="359.5" cy="551.9" r="2.0" fill="#7A35CC"/><circle cx="362.0" cy="551.9" r="2.0" fill="#7A35CC"/><circle cx="366.9" cy="551.9" r="2.0" fill="#7A35CC"/><circle cx="370.4" cy="551.9" r="2.0" fill="#7A35CC"/><circle cx="373.0" cy="551.9" r="2.0" fill="#7A35CC"/><circle cx="375.5" cy="551.9" r="2.0" fill="#7A35CC"/><circle cx="378.0" cy="551.9" r="2.0" fill="#7A35CC"/><circle cx="380.5" cy="551.9" r="2.0" fill="#7A35CC"/><circle cx="385.4" cy="551.9" r="2.0" fill="#7A35CC"/><path d="M391.8 551.8V552.0M395.0 551.6V552.2M395.8 551.5V552.3M396.6 551.5V552.3M397.4 551.4V552.4M398.2 551.4V552.4M399.0 551.2V552.6M399.8 550.8V553.0M400.6 550.3V553.5M401.4 550.4V553.4M402.2 549.6V554.2M403.0 549.4V554.4M403.8 549.0V554.8M404.6 548.5V555.3M405.4 548.0V555.8M406.2 547.5V556.3M407.0 545.7V558.1M407.8 541.1V562.7M408.6 541.1V562.7M409.4 540.7V563.1M410.2 540.7V563.1M411.0 541.1V562.7M411.8 540.7V563.1M412.6 545.8V558.0M413.4 546.5V557.3M414.2 547.6V556.2M415.0 547.8V556.0M415.8 548.4V555.4M416.6 548.4V555.4M417.4 548.2V555.6M418.2 548.7V555.1M419.0 548.1V555.7M419.8 547.9V555.9M420.6 548.1V555.7M421.4 547.8V556.0M422.2 548.1V555.7M423.0 548.0V555.8M423.8 548.0V555.8M424.6 548.6V555.2M425.4 549.8V554.0M426.2 550.1V553.7M427.0 550.4V553.4M427.8 550.6V553.2M428.6 550.7V553.1M429.4 551.1V552.7M430.2 551.3V552.5M431.0 551.5V552.3M434.2 551.6V551.9M438.2 551.8V551.8M442.2 552.0V552.0M444.6 551.8V551.8M447.8 552.0V552.0M451.0 552.0V552.0M454.2 552.0V552.0M457.4 551.6V551.6M460.6 552.1V552.1M463.8 551.9V551.9M465.4 552.0V552.0" stroke="url(#g14)" stroke-width="4.0" stroke-linecap="round" fill="none"/><circle cx="445.1" cy="551.9" r="1.8" fill="#FF0052"/><circle cx="439.9" cy="551.9" r="1.8" fill="#FF0052"/><circle cx="433.7" cy="552.0" r="1.8" fill="#FF0052"/><circle cx="471.6" cy="551.9" r="2.0" fill="#D0087F"/><circle cx="475.0" cy="551.9" r="2.0" fill="#B00CA8"/><circle cx="478.5" cy="551.9" r="2.0" fill="#D0087F"/><circle cx="482.0" cy="551.9" r="2.0" fill="#B00CA8"/><circle cx="485.5" cy="551.9" r="2.0" fill="#D0087F"/><circle cx="489.0" cy="551.9" r="2.0" fill="#B00CA8"/><circle cx="492.5" cy="551.9" r="2.0" fill="#D0087F"/><circle cx="496.0" cy="551.9" r="2.0" fill="#B00CA8"/><circle cx="499.5" cy="551.9" r="2.0" fill="#D0087F"/><circle cx="503.0" cy="551.9" r="2.0" fill="#B00CA8"/><circle cx="506.5" cy="551.9" r="2.0" fill="#D0087F"/><path d="M511.8 552.1V552.2M515.0 552.1V552.2M518.2 551.9V552.1M520.6 551.5V551.7M523.8 551.9V552.3M527.0 551.8V552.3M531.0 551.4V552.4M531.8 551.3V552.5M532.6 551.1V552.7M533.4 550.9V552.9M534.2 550.6V553.2M535.0 550.5V553.3M535.8 550.7V553.1M536.6 549.9V553.9M537.4 549.3V554.5M538.2 548.9V554.9M539.0 548.1V555.7M539.8 548.2V555.6M540.6 547.4V556.4M541.4 547.3V556.5M542.2 547.3V556.5M543.0 546.2V557.6M543.8 544.3V559.5M544.6 541.2V562.6M545.4 541.7V562.1M546.2 541.5V562.3M547.0 541.3V562.5M547.8 541.6V562.2M548.6 541.2V562.6M549.4 545.3V558.5M550.2 546.9V556.9M551.0 547.4V556.4M551.8 547.9V555.9M552.6 548.4V555.4M553.4 548.3V555.5M554.2 548.6V555.2M555.0 548.2V555.6M555.8 548.3V555.5M556.6 547.7V556.1M557.4 547.4V556.4M558.2 547.5V556.3M559.0 547.6V556.2M559.8 547.3V556.5M560.6 547.2V556.6M561.4 547.9V555.9M562.2 550.0V553.8M563.0 551.0V552.8M563.8 551.1V552.7M564.6 551.2V552.6M565.4 551.3V552.5M566.2 551.4V552.4M567.0 551.4V552.4M567.8 551.5V552.3M568.6 551.9V552.5" stroke="url(#g15)" stroke-width="4.0" stroke-linecap="round" fill="none"/><circle cx="578.7" cy="551.9" r="2.0" fill="#FF0052"/><circle cx="582.3" cy="551.9" r="2.0" fill="#FF0052"/><circle cx="586.0" cy="551.9" r="2.0" fill="#FF0052"/><circle cx="296.4" cy="592.5" r="2.0" fill="#008BFB"/><circle cx="442.3" cy="592.5" r="2.0" fill="#FF0052"/><path d="M301.0 592.0V593.0M301.8 591.8V593.2M302.6 591.7V593.3M303.4 591.0V594.0M304.2 585.9V599.1M305.0 585.1V599.9M305.8 583.9V601.1M306.6 582.7V602.3M307.4 581.8V603.2M308.2 578.0V607.0M309.0 582.6V602.4M309.8 583.1V601.9M310.6 583.2V601.8M311.4 583.9V601.1M312.2 584.1V600.9M313.0 584.6V600.4M313.8 588.6V596.4M314.6 589.7V595.3M315.4 591.6V593.4M316.2 591.8V593.2M317.0 591.9V593.1M317.8 591.9V593.1M318.6 591.9V593.1M319.4 591.9V593.1M320.2 591.9V593.1M321.0 591.9V593.1M321.8 591.9V593.1M322.6 591.9V593.1M323.4 591.9V593.1M324.2 591.9V593.1M325.0 591.9V593.1M325.8 591.9V593.1M326.6 591.8V593.2M327.4 591.7V593.3M328.2 588.6V596.4M329.0 587.9V597.1M329.8 587.2V597.8M330.6 586.2V598.8M331.4 586.2V598.8M332.2 587.9V597.1M333.0 589.0V596.0M333.8 589.4V595.6M334.6 589.6V595.4M335.4 590.1V594.9M336.2 590.6V594.4M337.0 590.6V594.4M337.8 590.9V594.1M338.6 591.3V593.7M339.4 591.6V593.4M340.2 591.7V593.3M341.0 591.8V593.2M341.8 591.9V593.1M342.6 592.0V593.0M343.4 592.1V592.9M346.6 592.5V592.9M349.8 592.4V592.7M353.0 592.5V592.8M357.0 592.2V592.5M360.2 592.3V592.6M363.4 592.5V592.8M366.6 592.2V592.4M369.8 592.5V592.7M373.0 592.4V592.6M377.0 592.3V592.8M377.8 591.7V593.3M378.6 590.3V594.7M379.4 588.1V596.9M380.2 586.5V598.5M381.0 584.6V600.4M381.8 584.7V600.3M382.6 584.7V600.3M383.4 584.6V600.4M384.2 588.1V596.9M385.0 589.0V596.0M385.8 589.2V595.8M386.6 589.5V595.5M387.4 589.8V595.2M388.2 590.1V594.9M389.0 590.0V595.0M389.8 590.7V594.3M390.6 591.5V593.5M391.4 591.6V593.4M392.2 591.6V593.4M393.0 591.6V593.4M393.8 591.6V593.4M394.6 591.6V593.4M395.4 591.7V593.3M396.2 591.9V593.1M397.0 592.1V592.9M399.4 592.4V592.8M402.6 592.3V592.7M405.8 592.3V592.7M409.0 592.0V592.4M413.0 592.0V592.4M417.0 592.1V592.5M419.4 592.0V593.0M420.2 591.7V593.3M421.0 591.3V593.7M421.8 591.1V593.9M422.6 590.4V594.6M423.4 589.6V595.4M424.2 589.3V595.7M425.0 588.2V596.8M425.8 586.9V598.1M426.6 585.6V599.4M427.4 584.3V600.7M428.2 584.5V600.5M429.0 584.5V600.5M429.8 584.5V600.5M430.6 585.3V599.7M431.4 587.2V597.8M432.2 588.2V596.8M433.0 590.4V594.6" stroke="url(#g16)" stroke-width="4.0" stroke-linecap="round" fill="none"/><circle cx="342.3" cy="593.0" r="1.8" fill="#FF0052"/><circle cx="348.7" cy="592.7" r="1.8" fill="#FF0052"/><circle cx="371.3" cy="592.6" r="1.8" fill="#FF0052"/><circle cx="345.9" cy="592.5" r="1.8" fill="#FF0052"/><circle cx="344.4" cy="592.7" r="1.8" fill="#FF0052"/><circle cx="370.5" cy="592.5" r="1.8" fill="#008BFB"/><circle cx="356.8" cy="592.4" r="1.8" fill="#008BFB"/><circle cx="369.8" cy="592.5" r="1.8" fill="#008BFB"/><circle cx="363.0" cy="592.4" r="1.8" fill="#008BFB"/><circle cx="400.1" cy="592.3" r="1.8" fill="#FF0052"/><circle cx="411.4" cy="592.5" r="1.8" fill="#FF0052"/><circle cx="398.3" cy="592.6" r="1.8" fill="#FF0052"/><circle cx="401.1" cy="592.5" r="1.8" fill="#FF0052"/><circle cx="398.6" cy="592.4" r="1.8" fill="#FF0052"/><circle cx="414.3" cy="592.4" r="1.8" fill="#FF0052"/><circle cx="292.6" cy="633.1" r="2.0" fill="#008BFB"/><circle cx="296.4" cy="633.1" r="2.0" fill="#008BFB"/><circle cx="298.3" cy="633.1" r="2.0" fill="#008BFB"/><circle cx="300.2" cy="633.1" r="2.0" fill="#008BFB"/><circle cx="304.0" cy="633.1" r="2.0" fill="#008BFB"/><circle cx="313.5" cy="633.1" r="2.0" fill="#7A35CC"/><path d="M319.3 632.5V633.7M320.1 632.4V633.8M320.9 632.2V634.0M321.7 632.1V634.1M322.5 631.7V634.5M323.3 631.6V634.6M324.1 631.0V635.2M324.9 631.2V635.0M325.7 630.5V635.7M326.5 630.8V635.4M327.3 630.1V636.1M328.1 630.1V636.1M328.9 630.2V636.0M329.7 629.8V636.4M330.5 629.8V636.4M331.3 629.6V636.6M332.1 629.4V636.8M332.9 629.0V637.2M333.7 628.0V638.2M334.5 627.5V638.7M335.3 626.9V639.3M336.1 626.9V639.3M336.9 626.2V640.0M337.7 625.3V640.9M338.5 625.2V641.0M339.3 624.2V642.0M340.1 623.9V642.3M340.9 622.9V643.3M341.7 622.9V643.3M342.5 621.8V644.4M343.3 621.4V644.8M344.1 620.8V645.4M344.9 620.2V646.0M345.7 619.4V646.8M346.5 619.6V646.6M347.3 619.8V646.4M348.1 620.7V645.5M348.9 620.8V645.4M349.7 621.3V644.9M350.5 621.1V645.1M351.3 621.3V644.9M352.1 621.3V644.9M352.9 620.9V645.3M353.7 621.0V645.2M354.5 621.3V644.9M355.3 621.3V644.9M356.1 620.9V645.3M356.9 619.2V647.0M357.7 619.3V646.9M358.5 619.4V646.8M359.3 619.5V646.7M360.1 619.2V647.0M360.9 619.2V647.0M361.7 621.2V645.0M362.5 622.0V644.2M363.3 622.6V643.6M364.1 623.2V643.0M364.9 625.0V641.2M365.7 626.9V639.3M366.5 627.1V639.1M367.3 627.8V638.4M368.1 627.7V638.5M368.9 628.3V637.9M369.7 629.4V636.8M370.5 630.2V636.0M371.3 630.7V635.5M372.1 631.1V635.1M372.9 630.7V635.5M373.7 631.1V635.1M374.5 631.0V635.2M375.3 631.5V634.7M376.1 631.6V634.6M376.9 631.4V634.8M377.7 631.8V634.4M378.5 632.0V634.2M379.3 632.0V634.2M380.1 631.9V634.3M380.9 632.4V633.8M381.7 632.2V634.0M382.5 632.3V633.9M383.3 632.4V633.8M384.1 632.5V633.7M384.9 632.6V633.6M385.7 632.6V633.6M386.5 632.6V633.6M387.3 632.6V633.6M388.1 632.6V633.6M388.9 632.7V633.5M389.7 632.7V633.5M390.5 632.7V633.5M391.3 632.7V633.5M392.1 632.7V633.5M395.3 632.9V633.5M399.3 633.0V633.5M402.5 633.0V633.2M404.9 633.3V633.5M405.7 632.8V633.0" stroke="url(#g17)" stroke-width="4.0" stroke-linecap="round" fill="none"/><circle cx="346.7" cy="626.4" r="1.8" fill="#5A55DC"/><circle cx="358.9" cy="620.1" r="1.8" fill="#5A55DC"/><circle cx="346.6" cy="638.5" r="1.8" fill="#5A55DC"/><circle cx="348.3" cy="620.1" r="1.8" fill="#5A55DC"/><circle cx="355.2" cy="635.2" r="1.8" fill="#5A55DC"/><circle cx="353.9" cy="638.0" r="1.8" fill="#5A55DC"/><circle cx="346.7" cy="643.1" r="1.8" fill="#5A55DC"/><circle cx="357.2" cy="620.5" r="1.8" fill="#5A55DC"/><circle cx="353.7" cy="632.9" r="1.8" fill="#B00CA8"/><circle cx="359.0" cy="627.0" r="1.8" fill="#B00CA8"/><circle cx="353.7" cy="630.8" r="1.8" fill="#B00CA8"/><circle cx="353.9" cy="635.3" r="1.8" fill="#B00CA8"/><circle cx="364.1" cy="625.7" r="1.8" fill="#B00CA8"/><circle cx="360.0" cy="639.9" r="1.8" fill="#B00CA8"/><circle cx="354.3" cy="640.9" r="1.8" fill="#B00CA8"/><circle cx="365.1" cy="630.9" r="1.8" fill="#B00CA8"/><circle cx="389.5" cy="633.1" r="2.0" fill="#7A35CC"/><circle cx="194.2" cy="673.7" r="2.0" fill="#008BFB"/><circle cx="198.1" cy="673.7" r="2.0" fill="#008BFB"/><circle cx="213.5" cy="673.7" r="2.0" fill="#008BFB"/><circle cx="216.5" cy="673.7" r="2.0" fill="#008BFB"/><circle cx="219.5" cy="673.7" r="2.0" fill="#008BFB"/><circle cx="222.5" cy="673.7" r="2.0" fill="#008BFB"/><circle cx="224.4" cy="673.7" r="2.0" fill="#008BFB"/><circle cx="229.9" cy="673.7" r="2.0" fill="#008BFB"/><circle cx="233.2" cy="673.7" r="2.0" fill="#008BFB"/><circle cx="246.3" cy="673.7" r="2.0" fill="#008BFB"/><circle cx="252.9" cy="673.7" r="2.0" fill="#008BFB"/><circle cx="257.3" cy="673.7" r="2.0" fill="#008BFB"/><circle cx="277.0" cy="673.7" r="2.0" fill="#008BFB"/><circle cx="279.5" cy="673.7" r="2.0" fill="#FF0052"/><circle cx="281.5" cy="673.7" r="2.0" fill="#008BFB"/><circle cx="284.0" cy="673.7" r="2.0" fill="#008BFB"/><circle cx="287.0" cy="673.7" r="2.0" fill="#008BFB"/><circle cx="289.0" cy="673.7" r="2.0" fill="#008BFB"/><circle cx="308.7" cy="673.7" r="2.0" fill="#008BFB"/><circle cx="315.3" cy="673.7" r="2.0" fill="#FF0052"/><path d="M320.6 673.9V673.9M324.6 673.4V673.6M328.6 673.7V674.1M331.0 673.3V674.1M331.8 673.2V674.2M332.6 673.0V674.4M333.4 672.9V674.5M334.2 672.7V674.7M335.0 672.6V674.8M335.8 672.2V675.2M336.6 672.0V675.4M337.4 672.3V675.1M338.2 672.0V675.4M339.0 671.7V675.7M339.8 671.6V675.8M340.6 670.8V676.6M341.4 670.1V677.3M342.2 668.9V678.5M343.0 667.8V679.6M343.8 659.8V687.6M344.6 659.7V687.7M345.4 659.2V688.2M346.2 659.3V688.1M347.0 659.2V688.2M347.8 661.9V685.5M348.6 662.4V685.0M349.4 662.5V684.9M350.2 662.5V684.9M351.0 662.9V684.5M351.8 662.2V685.2M352.6 661.1V686.3M353.4 660.9V686.5M354.2 661.1V686.3M355.0 661.0V686.4M355.8 660.7V686.7M356.6 660.9V686.5M357.4 669.9V677.5M358.2 670.2V677.2M359.0 670.4V677.0M359.8 670.1V677.3M360.6 670.5V676.9M361.4 670.5V676.9M362.2 670.3V677.1M363.0 670.6V676.8M363.8 670.3V677.1M364.6 670.1V677.3M365.4 670.3V677.1M366.2 670.1V677.3M367.0 667.4V680.0M367.8 667.4V680.0M368.6 667.6V679.8M369.4 667.6V679.8M370.2 667.6V679.8M371.0 667.5V679.9M371.8 667.5V679.9M372.6 667.5V679.9M373.4 671.4V676.0M374.2 672.0V675.4M375.0 672.0V675.4M375.8 672.1V675.3M376.6 672.4V675.0M377.4 672.8V674.6M378.2 673.0V674.4M379.0 673.2V674.2M379.8 673.2V674.2M380.6 673.2V674.2M381.4 673.2V674.2M382.2 673.3V674.1M383.0 673.3V674.1M383.8 673.3V674.1M384.6 673.3V674.1M388.6 673.5V674.0M391.8 673.3V673.7M395.0 673.4V673.8M398.2 673.4V673.7M401.4 673.3V673.6M403.8 673.5V673.7M407.0 673.9V674.1M410.2 673.7V673.9M413.4 673.8V673.9M417.4 673.9V674.0" stroke="url(#g18)" stroke-width="4.0" stroke-linecap="round" fill="none"/><circle cx="342.0" cy="684.2" r="1.8" fill="#008BFB"/><circle cx="341.0" cy="676.1" r="1.8" fill="#008BFB"/><circle cx="345.7" cy="673.6" r="1.8" fill="#008BFB"/><circle cx="348.7" cy="675.7" r="1.8" fill="#008BFB"/><circle cx="344.3" cy="681.8" r="1.8" fill="#008BFB"/><circle cx="348.0" cy="676.7" r="1.8" fill="#008BFB"/><circle cx="344.0" cy="672.3" r="1.8" fill="#008BFB"/><circle cx="344.7" cy="680.0" r="1.8" fill="#008BFB"/><circle cx="343.3" cy="670.6" r="1.8" fill="#008BFB"/><circle cx="345.4" cy="670.4" r="1.8" fill="#008BFB"/><circle cx="343.6" cy="681.9" r="1.8" fill="#008BFB"/><circle cx="347.8" cy="673.7" r="1.8" fill="#008BFB"/><circle cx="354.0" cy="665.7" r="1.8" fill="#008BFB"/><circle cx="352.7" cy="664.7" r="1.8" fill="#008BFB"/><circle cx="355.2" cy="675.8" r="1.8" fill="#008BFB"/><circle cx="350.8" cy="684.4" r="1.8" fill="#008BFB"/><circle cx="352.9" cy="682.4" r="1.8" fill="#FF0052"/><circle cx="357.5" cy="685.4" r="1.8" fill="#FF0052"/><circle cx="351.8" cy="671.8" r="1.8" fill="#FF0052"/><circle cx="358.2" cy="661.3" r="1.8" fill="#FF0052"/><circle cx="350.4" cy="675.1" r="1.8" fill="#FF0052"/><circle cx="354.5" cy="684.4" r="1.8" fill="#FF0052"/><circle cx="357.0" cy="674.7" r="1.8" fill="#FF0052"/><circle cx="365.0" cy="673.8" r="1.8" fill="#FF0052"/><circle cx="362.1" cy="674.9" r="1.8" fill="#FF0052"/><circle cx="428.2" cy="673.7" r="2.0" fill="#4A62E4"/><circle cx="431.5" cy="673.7" r="2.0" fill="#4A62E4"/><circle cx="434.8" cy="673.7" r="2.0" fill="#4A62E4"/><circle cx="438.0" cy="673.7" r="2.0" fill="#4A62E4"/><circle cx="441.3" cy="673.7" r="2.0" fill="#4A62E4"/><circle cx="445.3" cy="673.7" r="2.0" fill="#4A62E4"/><circle cx="306.4" cy="714.3" r="2.0" fill="#FF0052"/><circle cx="311.1" cy="714.3" r="2.0" fill="#FF0052"/><circle cx="382.8" cy="714.3" r="2.0" fill="#008BFB"/><path d="M319.8 714.2V714.3M323.0 714.2V714.5M326.2 714.0V714.7M327.0 713.9V714.7M327.8 713.8V714.8M328.6 713.7V714.9M329.4 713.7V714.9M330.2 713.6V715.0M331.0 713.4V715.2M331.8 712.8V715.8M332.6 712.4V716.2M333.4 712.3V716.3M334.2 711.9V716.7M335.0 711.4V717.2M335.8 710.8V717.8M336.6 710.8V717.8M337.4 710.3V718.3M338.2 709.8V718.8M339.0 709.8V718.8M339.8 709.3V719.3M340.6 708.5V720.1M341.4 708.1V720.5M342.2 707.9V720.7M343.0 707.7V720.9M343.8 706.8V721.8M344.6 706.3V722.3M345.4 705.7V722.9M346.2 705.0V723.6M347.0 704.5V724.1M347.8 704.2V724.4M348.6 703.7V724.9M349.4 703.0V725.6M350.2 702.3V726.3M351.0 701.7V726.9M351.8 701.3V727.3M352.6 701.2V727.4M353.4 700.9V727.7M354.2 700.9V727.7M355.0 701.1V727.5M355.8 700.7V727.9M356.6 700.9V727.7M357.4 701.3V727.3M358.2 701.1V727.5M359.0 700.8V727.8M359.8 701.1V727.5M360.6 700.9V727.7M361.4 701.3V727.3M362.2 701.5V727.1M363.0 702.0V726.6M363.8 703.5V725.1M364.6 705.1V723.5M365.4 707.5V721.1M366.2 709.7V718.9M367.0 712.3V716.3M367.8 713.4V715.2M368.6 713.7V714.9M371.8 714.0V714.4M375.0 713.9V714.3M375.8 714.1V714.5" stroke="url(#g19)" stroke-width="4.0" stroke-linecap="round" fill="none"/><circle cx="357.9" cy="717.3" r="1.8" fill="#5A55DC"/><circle cx="357.7" cy="702.7" r="1.8" fill="#5A55DC"/><circle cx="348.1" cy="720.2" r="1.8" fill="#5A55DC"/><circle cx="351.9" cy="720.0" r="1.8" fill="#5A55DC"/><circle cx="352.2" cy="705.5" r="1.8" fill="#5A55DC"/><circle cx="351.2" cy="703.7" r="1.8" fill="#5A55DC"/><circle cx="358.8" cy="716.5" r="1.8" fill="#5A55DC"/><circle cx="352.2" cy="713.0" r="1.8" fill="#5A55DC"/><circle cx="343.9" cy="707.4" r="1.8" fill="#B00CA8"/><circle cx="348.9" cy="716.2" r="1.8" fill="#B00CA8"/><circle cx="349.6" cy="712.8" r="1.8" fill="#B00CA8"/><circle cx="346.2" cy="709.5" r="1.8" fill="#B00CA8"/><circle cx="340.4" cy="719.2" r="1.8" fill="#B00CA8"/><circle cx="236.9" cy="754.9" r="2.0" fill="#7A35CC"/><circle cx="257.3" cy="754.9" r="2.0" fill="#7A35CC"/><circle cx="261.5" cy="754.9" r="2.0" fill="#008BFB"/><circle cx="324.9" cy="754.9" r="2.0" fill="#008BFB"/><circle cx="377.4" cy="754.9" r="2.0" fill="#008BFB"/><circle cx="387.5" cy="754.9" r="2.0" fill="#008BFB"/><path d="M274.8 754.8V754.8M278.0 755.2V755.2M281.2 755.0V755.0M284.4 755.1V755.1M287.6 755.2V755.2M290.8 754.8V754.8M294.0 754.8V754.8" stroke="url(#g20)" stroke-width="4.0" stroke-linecap="round" fill="none"/><path d="M299.8 754.7V754.7M302.2 755.0V755.0M305.4 754.8V754.8M309.4 754.7V754.7M313.4 755.2V755.2M316.6 755.0V755.0M318.2 755.0V755.0" stroke="url(#g21)" stroke-width="4.0" stroke-linecap="round" fill="none"/><path d="M330.8 754.7V754.8M334.0 754.8V755.0M337.2 754.8V755.2M338.8 754.5V755.3M339.6 754.2V755.6M340.4 753.9V755.9M341.2 753.5V756.3M342.0 753.2V756.6M342.8 751.9V757.9M343.6 751.1V758.7M344.4 751.4V758.4M345.2 751.1V758.7M346.0 751.4V758.4M346.8 751.4V758.4M347.6 752.5V757.3M348.4 752.8V757.0M349.2 753.1V756.7M350.0 752.5V757.3M350.8 750.9V758.9M351.6 740.5V769.3M352.4 740.5V769.3M353.2 740.2V769.6M354.0 740.4V769.4M354.8 740.4V769.4M355.6 752.7V757.1M356.4 753.5V756.3M357.2 753.9V755.9M358.0 754.0V755.8M358.8 754.1V755.7M359.6 754.2V755.6M360.4 754.2V755.6M361.2 754.3V755.5M362.0 754.4V755.4M362.8 754.4V755.4M363.6 754.5V755.3M364.4 754.5V755.3M367.6 754.5V754.8" stroke="url(#g22)" stroke-width="4.0" stroke-linecap="round" fill="none"/><circle cx="354.1" cy="759.7" r="1.8" fill="#D80A80"/><circle cx="352.1" cy="752.3" r="1.8" fill="#D80A80"/><circle cx="354.0" cy="760.7" r="1.8" fill="#D80A80"/><circle cx="351.5" cy="765.0" r="1.8" fill="#D80A80"/><circle cx="284.9" cy="795.5" r="2.0" fill="#008BFB"/><circle cx="295.4" cy="795.5" r="2.0" fill="#7A35CC"/><circle cx="307.7" cy="795.5" r="2.0" fill="#7A35CC"/><circle cx="314.7" cy="795.5" r="2.0" fill="#FF0052"/><circle cx="333.8" cy="795.5" r="2.0" fill="#B00CA8"/><circle cx="338.6" cy="795.5" r="2.0" fill="#FF0052"/><path d="M321.0 795.6V795.6M325.0 795.2V795.2M328.2 795.4V795.4M329.0 795.4V795.4" stroke="url(#g23)" stroke-width="4.0" stroke-linecap="round" fill="none"/><path d="M342.8 795.0V795.6M343.6 795.0V796.0M344.4 794.9V796.1M345.2 794.8V796.2M346.0 794.3V796.7M346.8 793.7V797.3M347.6 792.5V798.5M348.4 791.6V799.4M349.2 790.0V801.0M350.0 788.0V803.0M350.8 786.3V804.7M351.6 782.9V808.1M352.4 781.1V809.9M353.2 781.5V809.5M354.0 785.6V805.4M354.8 789.1V801.9M355.6 791.6V799.4M356.4 793.5V797.5M357.2 794.6V796.4M358.0 794.9V796.1M358.8 795.1V795.9M362.8 795.5V795.9M366.0 795.4V795.8M370.0 795.6V796.0M373.2 795.3V795.7M374.8 795.3V795.7" stroke="url(#g24)" stroke-width="4.0" stroke-linecap="round" fill="none"/><circle cx="353.6" cy="807.7" r="1.8" fill="#FF0052"/><circle cx="350.9" cy="802.9" r="1.8" fill="#FF0052"/><circle cx="350.3" cy="801.3" r="1.8" fill="#FF0052"/><circle cx="355.6" cy="790.9" r="1.8" fill="#FF0052"/><circle cx="353.8" cy="808.8" r="1.8" fill="#FF0052"/><circle cx="354.5" cy="796.7" r="1.8" fill="#FF0052"/><circle cx="351.7" cy="783.0" r="1.8" fill="#FF0052"/><circle cx="348.8" cy="794.2" r="1.8" fill="#5A55DC"/><circle cx="348.0" cy="793.3" r="1.8" fill="#5A55DC"/><circle cx="347.7" cy="797.6" r="1.8" fill="#5A55DC"/><circle cx="350.4" cy="788.1" r="1.8" fill="#5A55DC"/><circle cx="348.2" cy="795.7" r="1.8" fill="#5A55DC"/><circle cx="310.3" cy="836.1" r="2.0" fill="#7A35CC"/><circle cx="312.5" cy="836.1" r="2.0" fill="#7A35CC"/><circle cx="319.1" cy="836.1" r="2.0" fill="#FF0052"/><circle cx="325.5" cy="836.1" r="2.0" fill="#7A35CC"/><circle cx="328.5" cy="836.1" r="2.0" fill="#4A62E4"/><circle cx="333.5" cy="836.1" r="2.0" fill="#7A35CC"/><circle cx="335.5" cy="836.1" r="2.0" fill="#7A35CC"/><circle cx="375.8" cy="836.1" r="2.0" fill="#2C7CF2"/><circle cx="372.5" cy="836.1" r="2.0" fill="#7A35CC"/><circle cx="380.6" cy="836.1" r="2.0" fill="#FF0052"/><path d="M339.3 836.2V836.5M342.5 836.0V836.3M346.5 836.0V836.4M348.9 835.2V837.0M349.7 833.9V838.3M350.5 832.5V839.7M351.3 825.3V846.9M352.1 822.5V849.7M352.9 821.9V850.3M353.7 822.8V849.4M354.5 826.1V846.1M355.3 834.8V837.4M356.1 835.2V837.0M356.9 835.6V836.6M360.1 835.8V836.2M363.3 835.7V836.0M366.5 836.3V836.5" stroke="url(#g25)" stroke-width="4.0" stroke-linecap="round" fill="none"/><circle cx="353.0" cy="824.9" r="1.8" fill="#FF0052"/><circle cx="352.7" cy="834.2" r="1.8" fill="#FF0052"/><circle cx="351.4" cy="837.3" r="1.8" fill="#FF0052"/><circle cx="350.5" cy="847.0" r="1.8" fill="#FF0052"/><circle cx="353.4" cy="839.7" r="1.8" fill="#FF0052"/><circle cx="354.7" cy="840.2" r="1.8" fill="#2C7CF2"/><circle cx="351.6" cy="828.9" r="1.8" fill="#2C7CF2"/><circle cx="315.3" cy="876.7" r="2.0" fill="#008BFB"/><path d="M332.7 876.4V876.4M335.9 876.7V876.9M339.9 876.7V877.0M343.1 876.5V876.8M346.3 876.2V876.7M347.1 876.1V877.3M347.9 875.3V878.1M348.7 874.6V878.8M349.5 874.3V879.1M350.3 873.8V879.6M351.1 866.2V887.2M351.9 863.0V890.4M352.7 862.4V891.0M353.5 863.0V890.4M354.3 865.9V887.5M355.1 875.6V877.8M355.9 876.2V877.2M359.1 876.5V876.8M361.5 876.5V876.8M363.9 876.8V877.0M367.1 876.8V876.8" stroke="url(#g26)" stroke-width="4.0" stroke-linecap="round" fill="none"/><circle cx="353.1" cy="874.4" r="1.8" fill="#FF0052"/><circle cx="352.4" cy="874.9" r="1.8" fill="#FF0052"/><circle cx="353.7" cy="886.0" r="1.8" fill="#FF0052"/><circle cx="354.6" cy="867.6" r="1.8" fill="#FF0052"/><circle cx="352.2" cy="875.1" r="1.8" fill="#FF0052"/></g><text transform="translate(125.12 51.80) scale(1.1596 1)" x="0" y="0" text-anchor="end" class="yl">Kc<tspan class="up">(</tspan>d<tspan class="up"> − 1)</tspan></text><text transform="translate(125.53 92.56) scale(1.1667 1)" x="0" y="0" text-anchor="end" class="yl">Sin</text><text transform="translate(123.13 133.32) scale(1.1344 1)" x="0" y="0" text-anchor="end" class="yl">Ws</text><text transform="translate(122.80 174.08) scale(1.0588 1)" x="0" y="0" text-anchor="end" class="yl">H</text><text transform="translate(125.12 214.84) scale(1.1596 1)" x="0" y="0" text-anchor="end" class="yl">Kc<tspan class="up">(</tspan>d<tspan class="up"> − 2)</tspan></text><text transform="translate(123.05 255.60) scale(1.0464 1)" x="0" y="0" text-anchor="end" class="yl">Rs</text><text transform="translate(125.79 296.36) scale(1.1973 1)" x="0" y="0" text-anchor="end" class="yl">Tmean</text><text transform="translate(125.42 337.12) scale(1.2078 1)" x="0" y="0" text-anchor="end" class="yl">Tmin</text><text transform="translate(122.00 377.88) scale(1.1867 1)" x="0" y="0" text-anchor="end" class="yl">Tmax</text><text transform="translate(116.98 561.60) scale(1.1424 1)" x="0" y="0" text-anchor="end" class="yl">Kc<tspan class="up">(</tspan>d<tspan class="up"> − 1)</tspan></text><text transform="translate(116.98 602.20) scale(1.1424 1)" x="0" y="0" text-anchor="end" class="yl">Kc<tspan class="up">(</tspan>d<tspan class="up"> − 2)</tspan></text><text transform="translate(115.45 642.80) scale(1.1500 1)" x="0" y="0" text-anchor="end" class="yl">Ws</text><text transform="translate(117.63 683.40) scale(1.1636 1)" x="0" y="0" text-anchor="end" class="yl">Sin</text><text transform="translate(114.10 724.00) scale(1.0412 1)" x="0" y="0" text-anchor="end" class="yl">H</text><text transform="translate(115.15 764.60) scale(1.0536 1)" x="0" y="0" text-anchor="end" class="yl">Rs</text><text transform="translate(116.89 805.20) scale(1.1961 1)" x="0" y="0" text-anchor="end" class="yl">Tmin</text><text transform="translate(117.46 845.80) scale(1.1795 1)" x="0" y="0" text-anchor="end" class="yl">Tmean</text><text transform="translate(113.60 886.40) scale(1.1683 1)" x="0" y="0" text-anchor="end" class="yl">Tmax</text><text x="221.4" y="436" text-anchor="middle" class="tk">−0.2</text><text x="358.5" y="436" text-anchor="middle" class="tk">0.0</text><text x="497.6" y="436" text-anchor="middle" class="tk">0.2</text><text x="193.4" y="944.8" text-anchor="middle" class="tk">−0.2</text><text x="272.2" y="944.8" text-anchor="middle" class="tk">−0.1</text><text x="353.0" y="944.8" text-anchor="middle" class="tk">0.0</text><text x="432.8" y="944.8" text-anchor="middle" class="tk">0.1</text><text x="512.6" y="944.8" text-anchor="middle" class="tk">0.2</text><text x="592.4" y="944.8" text-anchor="middle" class="tk">0.3</text><text x="0.00" y="463.6" text-anchor="middle" class="xl" transform="translate(383.90 0) scale(1.0435 1)">Shapley Values - Impact on model</text><text x="0" y="972.2" text-anchor="middle" class="xl" transform="translate(371.30 0) scale(1.0251 1)">Shapley Values - Impact on model</text><text x="333.3" y="496.6" text-anchor="middle" class="cap">(a)</text><text x="327.2" y="1008.3" text-anchor="middle" class="cap">(b)</text><rect x="653.0" y="2.0" width="1.2" height="407.2" fill="#F1F1F6"/><rect x="652.9" y="183.8" width="1.8" height="42.5" rx="0.9" fill="url(#cb27)"/><text x="658.0" y="188.0" class="cb" style="font-size:8.8px">High</text><text x="658.0" y="229.8" class="cb" style="font-size:8.8px">Low</text><text transform="translate(683.6 206.0) rotate(-90)" text-anchor="middle" class="cb" style="font-size:10.0px">Feature value</text><rect x="635.8" y="511.8" width="1.2" height="406.0" fill="#F1F1F6"/><rect x="635.5" y="692.9" width="1.8" height="42.7" rx="0.9" fill="url(#cb28)"/><text x="640.8" y="697.3" class="cb" style="font-size:8.8px">High</text><text x="640.8" y="738.7" class="cb" style="font-size:8.8px">Low</text><text transform="translate(665.8 715.4) rotate(-90)" text-anchor="middle" class="cb" style="font-size:10.0px">Feature value</text></svg>
</body></html>
